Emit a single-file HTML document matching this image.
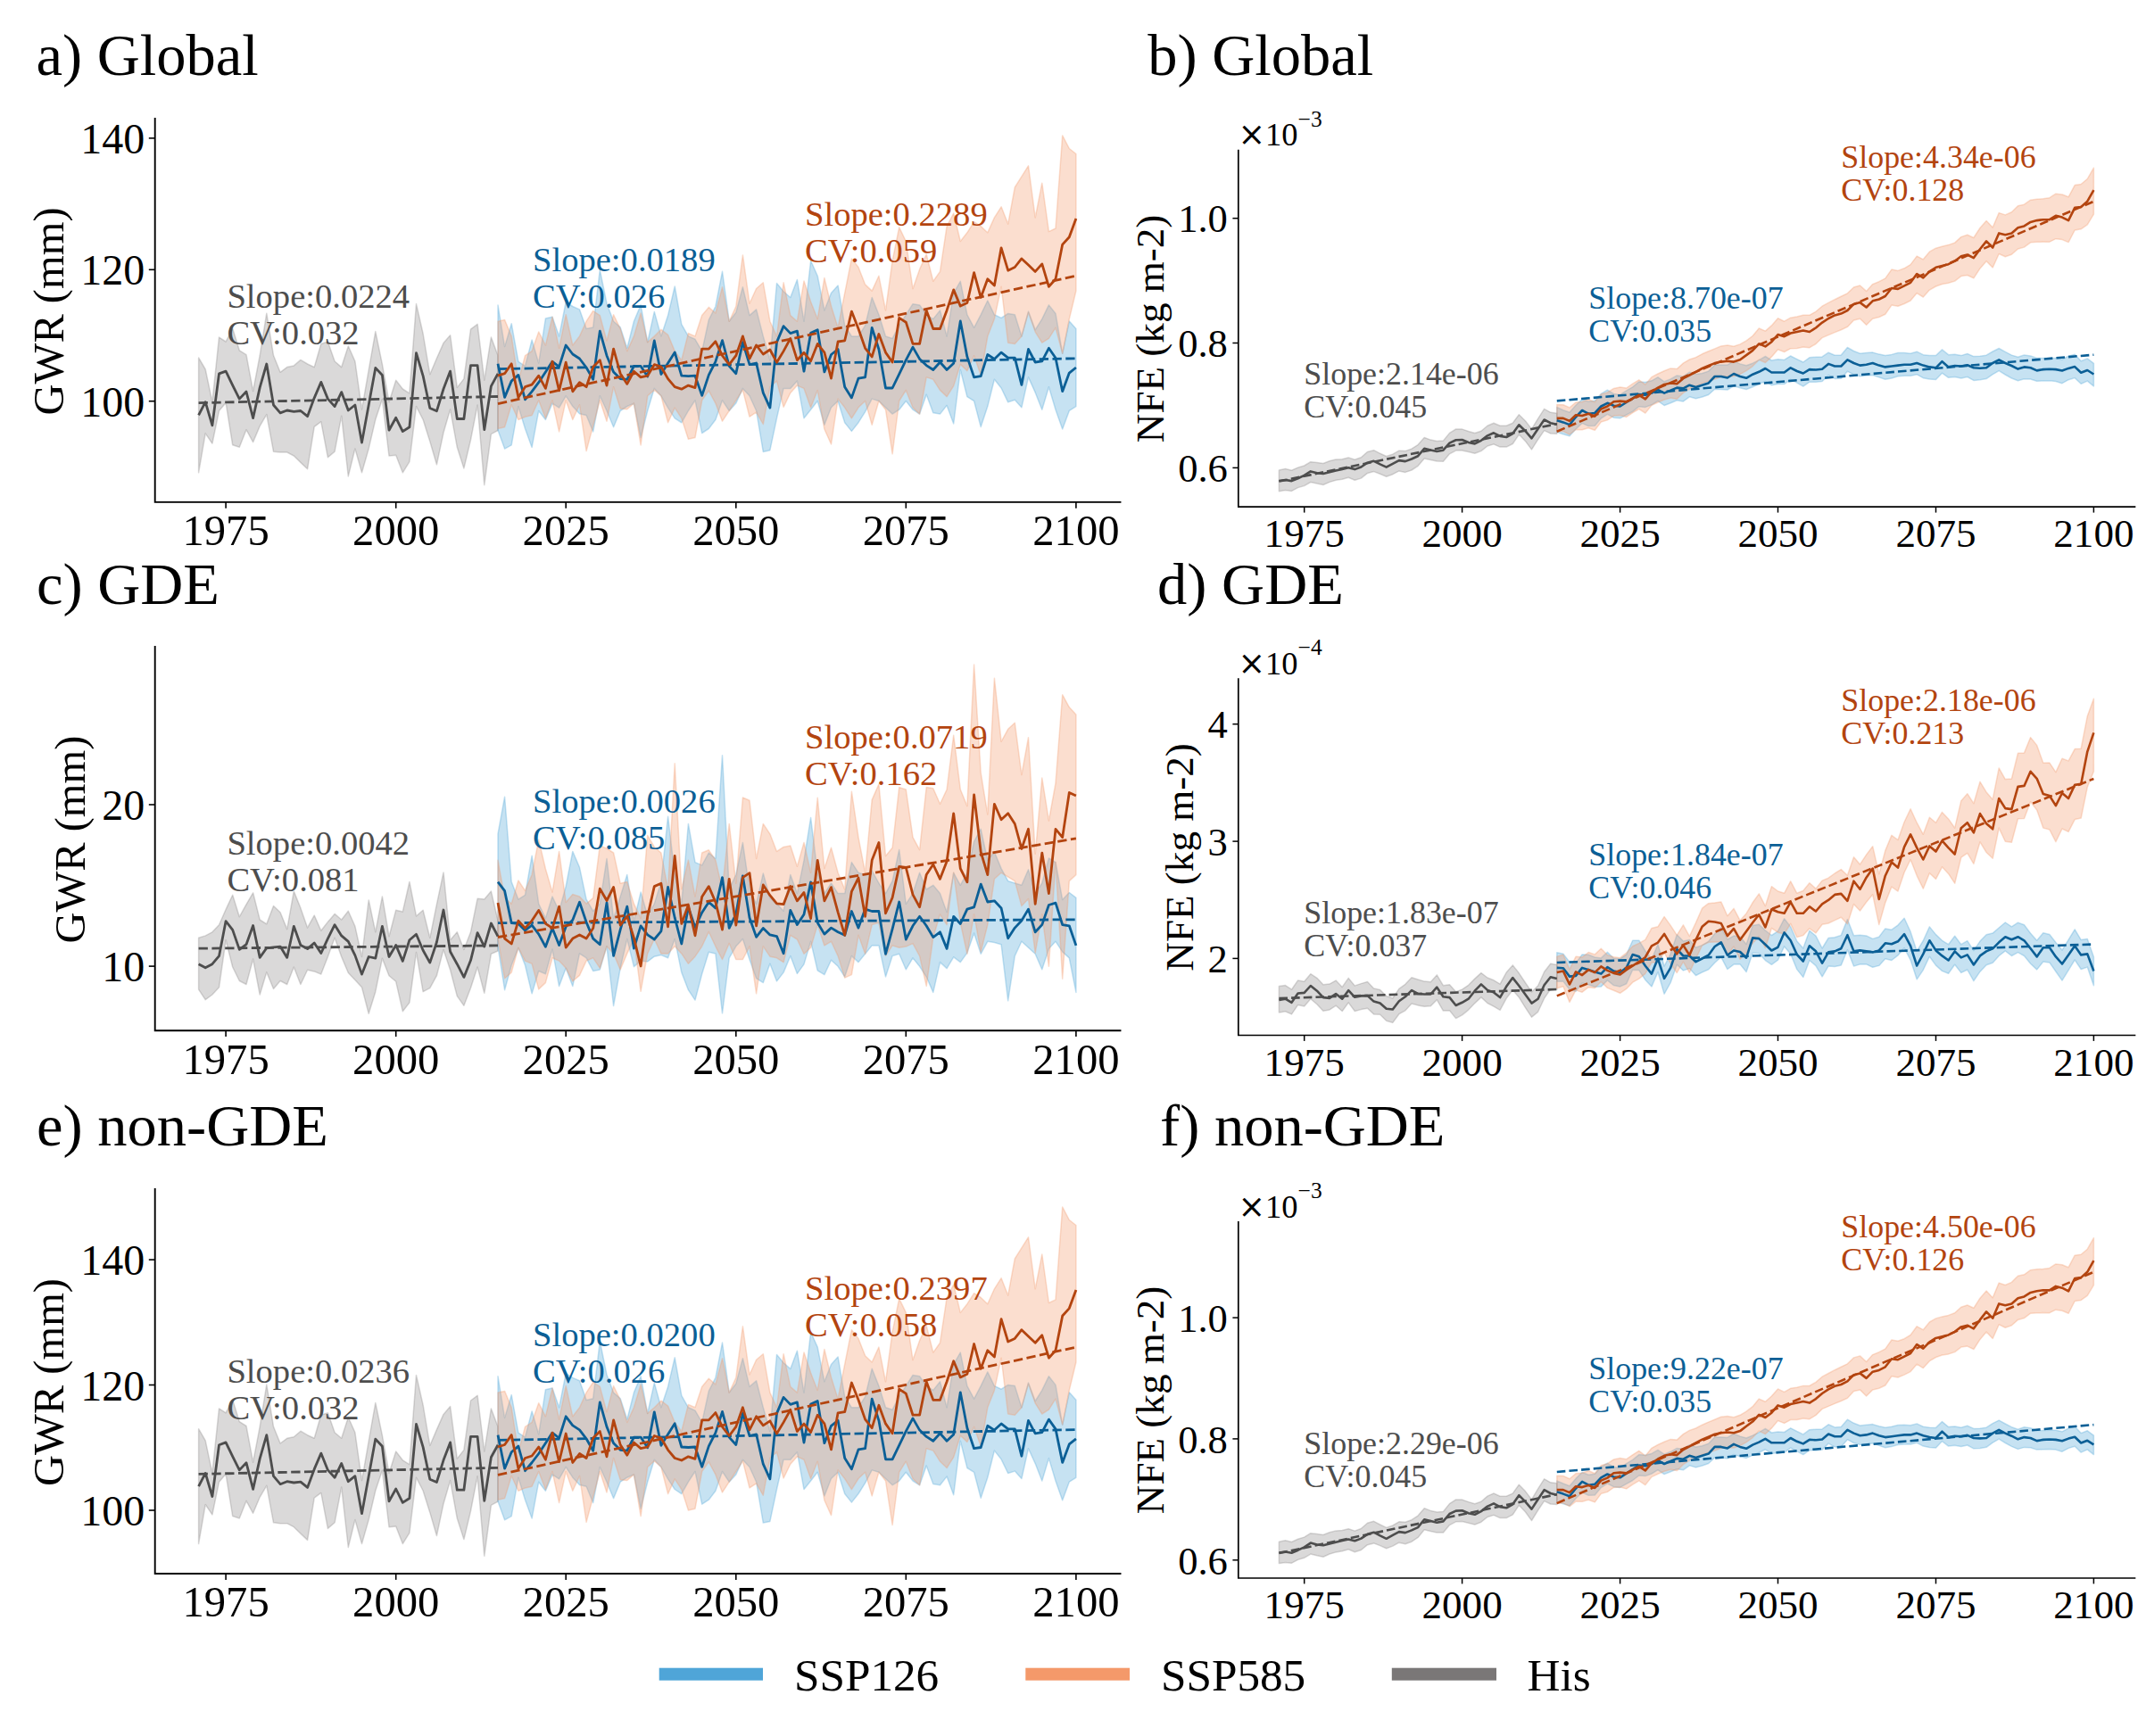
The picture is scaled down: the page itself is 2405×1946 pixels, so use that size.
<!DOCTYPE html>
<html><head><meta charset="utf-8"><title>Figure</title>
<style>html,body{margin:0;padding:0;background:#fff;width:2405px;height:1946px;overflow:hidden}svg{display:block}</style></head>
<body>
<svg width="2405" height="1946" viewBox="0 0 2405 1946" font-family='"Liberation Serif", serif'>
<rect width="2405" height="1946" fill="#fff"/>
<g><polygon points="222.6,401.0 230.2,414.0 237.9,450.7 245.5,378.1 253.1,383.0 260.7,368.3 268.3,392.8 276.0,397.7 283.6,438.5 291.2,398.5 298.8,351.2 306.5,398.5 314.1,417.3 321.7,411.6 329.3,409.9 336.9,403.4 344.6,408.0 352.2,411.6 359.8,385.5 367.4,383.0 375.1,405.0 382.7,411.6 390.3,387.9 397.9,405.0 405.5,458.9 413.2,414.8 420.8,371.6 428.4,408.3 436.0,450.7 443.7,426.2 451.3,436.0 458.9,440.9 466.5,340.6 474.1,374.0 481.8,419.7 489.4,401.8 497.0,384.6 504.6,375.7 512.3,434.4 519.9,424.6 527.5,369.1 535.1,363.4 542.8,426.2 550.4,378.1 558.0,398.5 558.0,482.5 550.4,486.6 542.8,543.7 535.1,454.0 527.5,493.1 519.9,524.9 512.3,501.3 504.6,458.9 497.0,485.0 489.4,520.8 481.8,494.7 474.1,470.3 466.5,455.6 458.9,517.6 451.3,529.8 443.7,510.2 436.0,511.0 428.4,447.4 420.8,470.3 413.2,502.9 405.5,529.8 397.9,502.9 390.3,533.9 382.7,466.2 375.1,506.2 367.4,512.7 359.8,472.7 352.2,478.4 344.6,525.7 336.9,518.4 329.3,511.0 321.7,507.0 314.1,507.0 306.5,506.2 298.8,464.6 291.2,477.6 283.6,495.6 276.0,481.7 268.3,501.3 260.7,498.8 253.1,451.5 245.5,460.5 237.9,497.2 230.2,485.8 222.6,529.8" fill="#7a7777" fill-opacity="0.28" stroke="#7a7777" stroke-opacity="0.28" stroke-width="1.5" stroke-linejoin="round"/>
<polygon points="558.0,341.9 565.6,388.6 573.2,362.7 580.9,405.3 588.5,410.4 596.1,381.1 603.7,407.0 611.4,356.9 619.0,355.2 626.6,376.9 634.2,338.5 641.8,343.5 649.5,346.9 657.1,368.6 664.7,366.9 672.3,302.6 680.0,340.2 687.6,360.2 695.2,366.9 702.8,390.3 710.4,360.2 718.1,341.9 725.7,383.6 733.3,349.4 740.9,376.9 748.6,353.6 756.2,321.0 763.8,363.6 771.4,376.9 779.0,380.3 786.7,393.6 794.3,358.6 801.9,343.5 809.5,304.3 817.2,360.2 824.8,350.2 832.4,321.8 840.0,353.6 847.6,346.9 855.3,376.9 862.9,403.7 870.5,317.6 878.1,326.8 885.8,333.5 893.4,313.5 901.0,360.2 908.6,292.3 916.2,309.2 923.9,347.9 931.5,328.6 939.1,320.1 946.7,364.9 954.4,377.0 962.0,377.0 969.6,364.9 977.2,333.4 984.9,352.8 992.5,377.0 1000.1,379.4 1007.7,364.9 1015.3,352.8 1023.0,340.7 1030.6,341.9 1038.2,352.8 1045.8,357.6 1053.5,347.9 1061.1,377.0 1068.7,328.6 1076.3,315.3 1083.9,352.8 1091.6,367.3 1099.2,352.8 1106.8,337.0 1114.4,352.8 1122.1,356.4 1129.7,351.5 1137.3,352.8 1144.9,377.0 1152.5,349.1 1160.2,369.7 1167.8,357.6 1175.4,341.9 1183.0,351.5 1190.7,396.3 1198.3,360.0 1205.9,368.5 1205.9,455.6 1198.3,460.4 1190.7,481.0 1183.0,459.2 1175.4,433.8 1167.8,459.2 1160.2,439.9 1152.5,422.9 1144.9,456.8 1137.3,448.3 1129.7,450.8 1122.1,435.0 1114.4,425.3 1106.8,455.6 1099.2,478.6 1091.6,449.5 1083.9,444.7 1076.3,414.5 1068.7,474.9 1061.1,454.4 1053.5,464.1 1045.8,462.8 1038.2,442.3 1030.6,464.1 1023.0,459.2 1015.3,449.5 1007.7,459.2 1000.1,464.1 992.5,456.8 984.9,449.5 977.2,447.1 969.6,461.6 962.0,473.7 954.4,483.4 946.7,473.7 939.1,449.5 931.5,456.8 923.9,476.2 916.2,449.5 908.6,459.2 901.0,468.8 893.4,427.1 885.8,435.4 878.1,435.4 870.5,468.8 862.9,504.7 855.3,506.4 847.6,460.5 840.0,443.8 832.4,435.4 824.8,452.1 817.2,460.5 809.5,448.8 801.9,470.5 794.3,480.5 786.7,485.5 779.0,448.8 771.4,460.5 763.8,473.8 756.2,468.8 748.6,457.1 740.9,443.8 733.3,435.4 725.7,460.5 718.1,490.5 710.4,452.1 702.8,455.5 695.2,460.5 687.6,478.8 680.0,460.5 672.3,443.8 664.7,483.9 657.1,465.5 649.5,463.8 641.8,455.5 634.2,443.8 626.6,457.1 619.0,452.1 611.4,470.5 603.7,460.5 596.1,501.4 588.5,480.5 580.9,455.5 573.2,498.9 565.6,503.1 558.0,482.2" fill="#4fa5d8" fill-opacity="0.32" stroke="#4fa5d8" stroke-opacity="0.32" stroke-width="1.5" stroke-linejoin="round"/>
<polygon points="558.0,360.2 565.6,358.6 573.2,376.9 580.9,427.1 588.5,398.7 596.1,393.6 603.7,371.9 611.4,387.0 619.0,355.2 626.6,390.3 634.2,352.7 641.8,387.0 649.5,376.9 657.1,360.2 664.7,348.5 672.3,353.6 680.0,382.0 687.6,352.7 695.2,368.6 702.8,393.6 710.4,376.9 718.1,351.0 725.7,383.6 733.3,376.9 740.9,369.4 748.6,375.3 756.2,393.6 763.8,403.7 771.4,373.6 779.0,376.9 786.7,353.6 794.3,344.4 801.9,351.0 809.5,321.8 817.2,360.2 824.8,343.5 832.4,285.9 840.0,340.2 847.6,323.5 855.3,316.8 862.9,360.2 870.5,376.9 878.1,316.8 885.8,353.6 893.4,360.2 901.0,315.1 908.6,338.2 916.2,357.6 923.9,311.6 931.5,343.1 939.1,367.3 946.7,328.6 954.4,289.9 962.0,299.5 969.6,318.9 977.2,326.1 984.9,309.2 992.5,347.9 1000.1,292.3 1007.7,254.8 1015.3,270.5 1023.0,323.7 1030.6,301.9 1038.2,285.0 1045.8,315.3 1053.5,304.4 1061.1,253.6 1068.7,239.0 1076.3,270.5 1083.9,260.8 1091.6,248.7 1099.2,253.6 1106.8,260.8 1114.4,243.9 1122.1,231.8 1129.7,251.1 1137.3,210.0 1144.9,197.9 1152.5,185.8 1160.2,243.9 1167.8,205.2 1175.4,259.6 1183.0,256.0 1190.7,151.9 1198.3,166.5 1205.9,172.5 1205.9,326.1 1198.3,357.6 1190.7,396.3 1183.0,367.3 1175.4,379.4 1167.8,384.2 1160.2,372.1 1152.5,350.3 1144.9,377.0 1137.3,385.4 1129.7,384.2 1122.1,321.3 1114.4,357.6 1106.8,377.0 1099.2,420.5 1091.6,398.7 1083.9,415.7 1076.3,408.4 1068.7,432.6 1061.1,444.7 1053.5,437.4 1045.8,425.3 1038.2,422.9 1030.6,464.1 1023.0,456.8 1015.3,437.4 1007.7,449.5 1000.1,508.8 992.5,459.2 984.9,449.5 977.2,476.2 969.6,449.5 962.0,456.8 954.4,468.9 946.7,456.8 939.1,447.1 931.5,497.9 923.9,481.0 916.2,437.4 908.6,456.8 901.0,435.4 893.4,432.1 885.8,440.4 878.1,456.3 870.5,427.1 862.9,433.7 855.3,475.5 847.6,462.1 840.0,467.2 832.4,437.1 824.8,448.8 817.2,460.5 809.5,472.2 801.9,452.1 794.3,437.9 786.7,448.8 779.0,490.5 771.4,492.2 763.8,468.8 756.2,457.1 748.6,473.8 740.9,443.8 733.3,437.1 725.7,443.8 718.1,498.9 710.4,452.1 702.8,458.8 695.2,458.0 687.6,433.7 680.0,472.2 672.3,448.8 664.7,477.2 657.1,505.6 649.5,453.8 641.8,470.5 634.2,448.8 626.6,483.9 619.0,448.8 611.4,468.8 603.7,448.8 596.1,465.5 588.5,467.2 580.9,470.5 573.2,453.8 565.6,478.8 558.0,480.5" fill="#f4996a" fill-opacity="0.32" stroke="#f4996a" stroke-opacity="0.32" stroke-width="1.5" stroke-linejoin="round"/>
<polyline points="222.6,465.4 230.2,450.7 237.9,476.8 245.5,418.9 253.1,416.1 260.7,431.9 268.3,447.1 276.0,439.0 283.6,468.6 291.2,434.4 298.8,408.0 306.5,454.0 314.1,462.9 321.7,460.0 329.3,461.3 336.9,460.5 344.6,466.7 352.2,446.1 359.8,428.4 367.4,447.1 375.1,455.6 382.7,439.6 390.3,460.0 397.9,454.0 405.5,496.0 413.2,454.0 420.8,412.4 428.4,420.5 436.0,482.2 443.7,468.3 451.3,483.6 458.9,478.8 466.5,395.7 474.1,421.3 481.8,457.5 489.4,460.8 497.0,436.0 504.6,416.1 512.3,469.5 519.9,469.5 527.5,409.6 535.1,409.6 542.8,481.7 550.4,432.8 558.0,418.9" fill="none" stroke="#4d4d4d" stroke-width="2.8" stroke-linejoin="round" stroke-linecap="butt"/>
<line x1="222.6" y1="451.6" x2="558.0" y2="444.5" stroke="#4d4d4d" stroke-width="2.8" stroke-dasharray="10.3 4.5"/>
<polyline points="558.0,407.8 565.6,445.4 573.2,427.1 580.9,420.4 588.5,447.9 596.1,438.8 603.7,428.7 611.4,417.0 619.0,405.3 626.6,411.2 634.2,387.0 641.8,397.0 649.5,402.0 657.1,412.0 664.7,425.4 672.3,371.1 680.0,398.7 687.6,417.0 695.2,424.6 702.8,425.4 710.4,410.4 718.1,410.4 725.7,422.0 733.3,382.0 740.9,419.5 748.6,407.0 756.2,395.0 763.8,421.2 771.4,421.7 779.0,421.2 786.7,443.4 794.3,420.4 801.9,405.3 809.5,381.6 817.2,410.4 824.8,418.7 832.4,383.6 840.0,408.7 847.6,407.0 855.3,440.4 862.9,457.1 870.5,383.6 878.1,365.6 885.8,373.6 893.4,371.1 901.0,416.2 908.6,373.3 916.2,369.7 923.9,416.9 931.5,397.5 939.1,391.5 946.7,433.8 954.4,445.9 962.0,424.1 969.6,422.9 977.2,367.3 984.9,391.5 992.5,435.0 1000.1,435.0 1007.7,419.3 1015.3,403.6 1023.0,389.1 1030.6,402.4 1038.2,409.6 1045.8,414.5 1053.5,406.0 1061.1,414.5 1068.7,407.2 1076.3,360.0 1083.9,399.9 1091.6,422.9 1099.2,421.7 1106.8,397.5 1114.4,402.4 1122.1,395.1 1129.7,401.2 1137.3,401.2 1144.9,431.4 1152.5,391.5 1160.2,406.0 1167.8,404.8 1175.4,390.3 1183.0,401.2 1190.7,438.7 1198.3,418.1 1205.9,412.0" fill="none" stroke="#0b5f96" stroke-width="2.8" stroke-linejoin="round" stroke-linecap="butt"/>
<line x1="558.0" y1="413.6" x2="1205.9" y2="401.8" stroke="#0b5f96" stroke-width="2.8" stroke-dasharray="10.3 4.5"/>
<polyline points="558.0,421.2 565.6,418.7 573.2,407.8 580.9,445.4 588.5,433.7 596.1,431.2 603.7,421.2 611.4,435.4 619.0,405.3 626.6,437.9 634.2,406.2 641.8,438.8 649.5,428.7 657.1,433.7 664.7,411.2 672.3,403.7 680.0,432.1 687.6,391.1 695.2,418.7 702.8,430.4 710.4,416.2 718.1,422.9 725.7,421.2 733.3,408.7 740.9,411.2 748.6,424.6 756.2,433.7 763.8,436.2 771.4,432.1 779.0,434.6 786.7,391.1 794.3,391.1 801.9,382.8 809.5,398.7 817.2,408.7 824.8,398.7 832.4,376.9 840.0,402.0 847.6,387.0 855.3,397.0 862.9,392.0 870.5,406.2 878.1,393.6 885.8,379.4 893.4,403.7 901.0,395.3 908.6,404.8 916.2,385.4 923.9,395.1 931.5,424.1 939.1,383.0 946.7,381.8 954.4,349.1 962.0,368.5 969.6,390.3 977.2,399.9 984.9,374.5 992.5,395.1 1000.1,406.0 1007.7,356.4 1015.3,361.2 1023.0,385.4 1030.6,385.4 1038.2,347.9 1045.8,368.5 1053.5,368.5 1061.1,347.9 1068.7,324.9 1076.3,343.1 1083.9,339.5 1091.6,305.6 1099.2,333.4 1106.8,312.8 1114.4,320.1 1122.1,277.8 1129.7,303.2 1137.3,299.5 1144.9,289.9 1152.5,297.1 1160.2,304.4 1167.8,295.9 1175.4,321.3 1183.0,312.8 1190.7,274.1 1198.3,265.7 1205.9,245.1" fill="none" stroke="#b3440f" stroke-width="2.8" stroke-linejoin="round" stroke-linecap="butt"/>
<line x1="558.0" y1="452.6" x2="1205.9" y2="309.2" stroke="#b3440f" stroke-width="2.8" stroke-dasharray="10.3 4.5"/>
<path d="M173.7,133.0V562.9H1255.5" fill="none" stroke="#000" stroke-width="1.9" stroke-linecap="square"/>
<line x1="253.1" y1="562.9" x2="253.1" y2="569.8" stroke="#000" stroke-width="1.6"/>
<text x="253.1" y="611.3" font-size="48.6" text-anchor="middle">1975</text>
<line x1="443.7" y1="562.9" x2="443.7" y2="569.8" stroke="#000" stroke-width="1.6"/>
<text x="443.7" y="611.3" font-size="48.6" text-anchor="middle">2000</text>
<line x1="634.2" y1="562.9" x2="634.2" y2="569.8" stroke="#000" stroke-width="1.6"/>
<text x="634.2" y="611.3" font-size="48.6" text-anchor="middle">2025</text>
<line x1="824.8" y1="562.9" x2="824.8" y2="569.8" stroke="#000" stroke-width="1.6"/>
<text x="824.8" y="611.3" font-size="48.6" text-anchor="middle">2050</text>
<line x1="1015.3" y1="562.9" x2="1015.3" y2="569.8" stroke="#000" stroke-width="1.6"/>
<text x="1015.3" y="611.3" font-size="48.6" text-anchor="middle">2075</text>
<line x1="1205.9" y1="562.9" x2="1205.9" y2="569.8" stroke="#000" stroke-width="1.6"/>
<text x="1205.9" y="611.3" font-size="48.6" text-anchor="middle">2100</text>
<line x1="166.8" y1="449.7" x2="173.7" y2="449.7" stroke="#000" stroke-width="1.6"/>
<text x="162.3" y="466.6" font-size="48.0" text-anchor="end">100</text>
<line x1="166.8" y1="302.3" x2="173.7" y2="302.3" stroke="#000" stroke-width="1.6"/>
<text x="162.3" y="319.2" font-size="48.0" text-anchor="end">120</text>
<line x1="166.8" y1="154.9" x2="173.7" y2="154.9" stroke="#000" stroke-width="1.6"/>
<text x="162.3" y="171.8" font-size="48.0" text-anchor="end">140</text>
<text transform="translate(70.8,348.9) rotate(-90)" font-size="48.5" text-anchor="middle">GWR (mm)</text>
<text x="40.5" y="83.7" font-size="66.5">a) Global</text>
<text x="254.4" y="345.2" font-size="38.6" fill="#4d4d4d">Slope:0.0224</text>
<text x="254.4" y="386.0" font-size="38.6" fill="#4d4d4d">CV:0.032</text>
<text x="597" y="304.2" font-size="38.6" fill="#0b5f96">Slope:0.0189</text>
<text x="597" y="345.0" font-size="38.6" fill="#0b5f96">CV:0.026</text>
<text x="902" y="253.2" font-size="38.6" fill="#b3440f">Slope:0.2289</text>
<text x="902" y="294.0" font-size="38.6" fill="#b3440f">CV:0.059</text></g>
<g><polygon points="1433.4,526.9 1440.5,525.5 1447.5,527.3 1454.6,524.1 1461.7,522.0 1468.8,517.7 1475.9,518.5 1482.9,519.5 1490.0,516.8 1497.1,515.0 1504.2,514.7 1511.2,512.9 1518.3,515.2 1525.4,512.7 1532.5,506.5 1539.6,504.7 1546.6,508.3 1553.7,511.5 1560.8,509.2 1567.9,505.2 1574.9,505.6 1582.0,503.1 1589.1,498.6 1596.2,490.5 1603.3,493.1 1610.3,494.5 1617.4,494.1 1624.5,485.4 1631.6,481.0 1638.6,481.1 1645.7,483.5 1652.8,485.5 1659.9,483.2 1667.0,477.2 1674.0,474.2 1681.1,477.3 1688.2,477.3 1695.3,474.2 1702.3,464.7 1709.4,471.8 1716.5,480.9 1723.6,469.3 1730.6,458.4 1737.7,462.3 1744.8,463.2 1744.8,486.3 1737.7,485.9 1730.6,482.6 1723.6,492.7 1716.5,503.9 1709.4,494.4 1702.3,487.1 1695.3,497.5 1688.2,501.1 1681.1,501.1 1674.0,497.9 1667.0,500.0 1659.9,505.6 1652.8,508.3 1645.7,506.5 1638.6,504.9 1631.6,505.1 1624.5,508.8 1617.4,517.2 1610.3,517.0 1603.3,515.5 1596.2,513.9 1589.1,522.3 1582.0,527.0 1574.9,529.4 1567.9,527.9 1560.8,531.7 1553.7,534.2 1546.6,531.3 1539.6,528.6 1532.5,530.4 1525.4,536.1 1518.3,538.2 1511.2,535.3 1504.2,537.2 1497.1,538.3 1490.0,540.4 1482.9,543.5 1475.9,542.1 1468.8,540.5 1461.7,544.6 1454.6,546.6 1447.5,550.4 1440.5,549.5 1433.4,550.7" fill="#7a7777" fill-opacity="0.28" stroke="#7a7777" stroke-opacity="0.28" stroke-width="1.5" stroke-linejoin="round"/>
<polygon points="1744.8,456.5 1751.9,459.7 1759.0,462.2 1766.0,454.3 1773.1,447.5 1780.2,450.1 1787.3,449.2 1794.3,441.4 1801.4,437.2 1808.5,441.5 1815.6,442.5 1822.7,437.9 1829.7,433.8 1836.8,427.9 1843.9,428.5 1851.0,426.8 1858.0,422.8 1865.1,427.8 1872.2,424.9 1879.3,421.0 1886.4,421.9 1893.4,417.2 1900.5,419.5 1907.6,418.5 1914.7,416.1 1921.7,409.1 1928.8,409.0 1935.9,409.1 1943.0,404.9 1950.1,407.9 1957.1,409.8 1964.2,407.2 1971.3,403.7 1978.4,399.5 1985.4,404.0 1992.5,402.8 1999.6,403.4 2006.7,399.0 2013.8,402.6 2020.8,406.0 2027.9,400.8 2035.0,400.2 2042.1,399.9 2049.1,395.2 2056.2,398.3 2063.3,397.9 2070.4,389.5 2077.5,393.5 2084.5,396.2 2091.6,395.6 2098.7,395.1 2105.8,397.1 2112.8,398.4 2119.9,397.4 2127.0,395.5 2134.1,395.5 2141.1,396.2 2148.2,394.2 2155.3,397.7 2162.4,398.5 2169.5,398.5 2176.5,391.9 2183.6,397.7 2190.7,397.2 2197.8,398.6 2204.8,396.5 2211.9,399.6 2219.0,399.3 2226.1,398.2 2233.2,394.0 2240.2,390.5 2247.3,394.4 2254.4,398.1 2261.5,400.3 2268.5,397.9 2275.6,398.9 2282.7,401.5 2289.8,401.6 2296.9,401.5 2303.9,401.4 2311.0,403.0 2318.1,399.1 2325.2,397.2 2332.2,404.7 2339.3,401.9 2346.4,407.3 2346.4,432.9 2339.3,427.1 2332.2,430.2 2325.2,423.6 2318.1,425.7 2311.0,429.7 2303.9,427.5 2296.9,426.8 2289.8,427.0 2282.7,427.2 2275.6,425.0 2268.5,424.8 2261.5,426.8 2254.4,424.0 2247.3,420.0 2240.2,415.6 2233.2,419.7 2226.1,424.6 2219.0,425.8 2211.9,426.4 2204.8,422.5 2197.8,423.9 2190.7,422.6 2183.6,423.3 2176.5,418.2 2169.5,425.4 2162.4,424.9 2155.3,423.7 2148.2,419.7 2141.1,421.3 2134.1,421.3 2127.0,421.8 2119.9,424.0 2112.8,425.2 2105.8,422.9 2098.7,420.5 2091.6,421.0 2084.5,421.7 2077.5,420.0 2070.4,416.2 2063.3,424.3 2056.2,424.4 2049.1,420.5 2042.1,427.5 2035.0,428.3 2027.9,428.2 2020.8,433.1 2013.8,429.1 2006.7,425.3 1999.6,430.6 1992.5,430.4 1985.4,431.8 1978.4,427.4 1971.3,430.5 1964.2,433.7 1957.1,436.5 1950.1,434.8 1943.0,432.7 1935.9,437.0 1928.8,436.5 1921.7,436.3 1914.7,442.5 1907.6,445.0 1900.5,446.7 1893.4,444.8 1886.4,449.9 1879.3,448.7 1872.2,451.7 1865.1,454.5 1858.0,449.4 1851.0,453.8 1843.9,456.4 1836.8,455.7 1829.7,461.3 1822.7,465.0 1815.6,468.8 1808.5,468.2 1801.4,464.3 1794.3,469.0 1787.3,477.3 1780.2,477.6 1773.1,474.4 1766.0,481.0 1759.0,488.7 1751.9,486.8 1744.8,484.4" fill="#4fa5d8" fill-opacity="0.32" stroke="#4fa5d8" stroke-opacity="0.32" stroke-width="1.5" stroke-linejoin="round"/>
<polygon points="1744.8,453.5 1751.9,453.8 1759.0,456.9 1766.0,451.0 1773.1,450.5 1780.2,447.7 1787.3,450.8 1794.3,441.9 1801.4,440.0 1808.5,435.4 1815.6,434.0 1822.7,435.0 1829.7,430.2 1836.8,425.8 1843.9,431.1 1851.0,422.7 1858.0,419.0 1865.1,415.7 1872.2,412.9 1879.3,413.6 1886.4,407.1 1893.4,403.0 1900.5,400.6 1907.6,396.8 1914.7,393.7 1921.7,390.9 1928.8,387.9 1935.9,387.1 1943.0,388.3 1950.1,385.9 1957.1,381.9 1964.2,376.5 1971.3,368.0 1978.4,371.1 1985.4,364.9 1992.5,356.8 1999.6,360.2 2006.7,356.2 2013.8,355.1 2020.8,353.3 2027.9,353.3 2035.0,349.3 2042.1,343.2 2049.1,339.4 2056.2,335.7 2063.3,332.3 2070.4,328.8 2077.5,322.0 2084.5,320.0 2091.6,326.4 2098.7,318.6 2105.8,315.7 2112.8,312.1 2119.9,302.1 2127.0,303.4 2134.1,300.8 2141.1,296.6 2148.2,287.1 2155.3,290.8 2162.4,282.2 2169.5,278.2 2176.5,276.2 2183.6,274.6 2190.7,272.1 2197.8,265.6 2204.8,263.3 2211.9,266.5 2219.0,255.5 2226.1,247.5 2233.2,255.0 2240.2,238.6 2247.3,240.9 2254.4,237.8 2261.5,230.7 2268.5,229.2 2275.6,224.2 2282.7,223.2 2289.8,222.8 2296.9,221.7 2303.9,217.2 2311.0,218.0 2318.1,220.8 2325.2,207.6 2332.2,206.5 2339.3,200.5 2346.4,188.2 2346.4,240.2 2339.3,251.8 2332.2,256.8 2325.2,258.0 2318.1,271.6 2311.0,268.6 2303.9,267.7 2296.9,271.2 2289.8,271.1 2282.7,271.2 2275.6,271.8 2268.5,277.1 2261.5,279.0 2254.4,285.3 2247.3,287.7 2240.2,284.5 2233.2,300.0 2226.1,292.7 2219.0,300.9 2211.9,311.8 2204.8,308.5 2197.8,309.6 2190.7,315.1 2183.6,317.3 2176.5,318.5 2169.5,321.0 2162.4,325.1 2155.3,333.0 2148.2,328.6 2141.1,337.0 2134.1,340.5 2127.0,343.3 2119.9,342.1 2112.8,352.3 2105.8,355.5 2098.7,357.2 2091.6,364.2 2084.5,357.2 2077.5,359.0 2070.4,366.4 2063.3,369.7 2056.2,372.6 2049.1,375.6 2042.1,378.6 2035.0,385.5 2027.9,389.7 2020.8,389.1 2013.8,390.5 2006.7,390.7 1999.6,394.5 1992.5,391.7 1985.4,399.9 1978.4,406.5 1971.3,403.2 1964.2,410.6 1957.1,415.6 1950.1,419.4 1943.0,422.0 1935.9,421.7 1928.8,422.4 1921.7,425.0 1914.7,427.3 1907.6,429.4 1900.5,433.2 1893.4,436.0 1886.4,440.4 1879.3,447.3 1872.2,446.1 1865.1,448.0 1858.0,451.0 1851.0,454.3 1843.9,463.1 1836.8,458.5 1829.7,462.7 1822.7,467.4 1815.6,465.6 1808.5,466.1 1801.4,470.9 1794.3,473.0 1787.3,482.3 1780.2,479.7 1773.1,481.8 1766.0,481.6 1759.0,487.0 1751.9,483.4 1744.8,483.8" fill="#f4996a" fill-opacity="0.32" stroke="#f4996a" stroke-opacity="0.32" stroke-width="1.5" stroke-linejoin="round"/>
<polyline points="1433.4,539.0 1440.5,538.0 1447.5,539.1 1454.6,536.2 1461.7,532.9 1468.8,528.4 1475.9,530.2 1482.9,531.0 1490.0,529.2 1497.1,527.5 1504.2,525.9 1511.2,524.3 1518.3,526.1 1525.4,523.5 1532.5,518.7 1539.6,516.8 1546.6,520.4 1553.7,523.6 1560.8,519.9 1567.9,516.1 1574.9,517.1 1582.0,514.5 1589.1,511.2 1596.2,502.8 1603.3,504.4 1610.3,506.0 1617.4,504.7 1624.5,496.6 1631.6,493.3 1638.6,493.0 1645.7,495.9 1652.8,497.4 1659.9,493.8 1667.0,488.4 1674.0,485.3 1681.1,488.9 1688.2,490.0 1695.3,486.1 1702.3,476.3 1709.4,483.2 1716.5,491.3 1723.6,480.7 1730.6,470.5 1737.7,474.2 1744.8,475.8" fill="none" stroke="#4d4d4d" stroke-width="2.6" stroke-linejoin="round" stroke-linecap="butt"/>
<line x1="1433.4" y1="539.6" x2="1744.8" y2="475.2" stroke="#4d4d4d" stroke-width="2.6" stroke-dasharray="9.6 4.1"/>
<polyline points="1744.8,471.2 1751.9,473.4 1759.0,476.1 1766.0,467.5 1773.1,460.0 1780.2,463.7 1787.3,463.0 1794.3,455.5 1801.4,451.8 1808.5,454.8 1815.6,455.5 1822.7,451.0 1829.7,446.6 1836.8,442.1 1843.9,442.8 1851.0,440.6 1858.0,436.9 1865.1,440.6 1872.2,437.6 1879.3,434.6 1886.4,435.4 1893.4,431.7 1900.5,433.9 1907.6,431.7 1914.7,429.4 1921.7,422.0 1928.8,422.0 1935.9,423.5 1943.0,419.0 1950.1,422.0 1957.1,423.8 1964.2,419.7 1971.3,416.8 1978.4,413.0 1985.4,417.5 1992.5,417.5 1999.6,417.5 2006.7,412.3 2013.8,416.0 2020.8,418.5 2027.9,414.1 2035.0,414.5 2042.1,413.8 2049.1,407.9 2056.2,410.5 2063.3,410.5 2070.4,403.4 2077.5,407.0 2084.5,409.6 2091.6,408.8 2098.7,407.0 2105.8,409.6 2112.8,411.4 2119.9,410.5 2127.0,409.6 2134.1,408.8 2141.1,408.8 2148.2,407.0 2155.3,409.6 2162.4,411.4 2169.5,412.3 2176.5,405.2 2183.6,411.4 2190.7,410.0 2197.8,410.5 2204.8,409.3 2211.9,412.3 2219.0,412.7 2226.1,412.3 2233.2,407.0 2240.2,403.4 2247.3,407.0 2254.4,410.0 2261.5,413.6 2268.5,411.4 2275.6,412.3 2282.7,415.4 2289.8,414.1 2296.9,413.8 2303.9,414.1 2311.0,415.5 2318.1,412.9 2325.2,411.1 2332.2,417.7 2339.3,415.0 2346.4,419.5" fill="none" stroke="#0b5f96" stroke-width="2.6" stroke-linejoin="round" stroke-linecap="butt"/>
<line x1="1744.8" y1="449.4" x2="2346.4" y2="397.7" stroke="#0b5f96" stroke-width="2.6" stroke-dasharray="9.6 4.1"/>
<polyline points="1744.8,468.9 1751.9,468.9 1759.0,471.9 1766.0,465.2 1773.1,466.0 1780.2,463.7 1787.3,466.7 1794.3,458.5 1801.4,455.5 1808.5,450.3 1815.6,449.6 1822.7,450.3 1829.7,446.6 1836.8,442.8 1843.9,447.3 1851.0,439.1 1858.0,434.6 1865.1,430.9 1872.2,429.4 1879.3,430.2 1886.4,424.2 1893.4,420.5 1900.5,416.8 1907.6,413.0 1914.7,410.0 1921.7,407.1 1928.8,405.6 1935.9,404.8 1943.0,405.6 1950.1,403.3 1957.1,398.1 1964.2,392.9 1971.3,385.4 1978.4,388.4 1985.4,383.2 1992.5,375.0 1999.6,377.2 2006.7,373.5 2013.8,372.0 2020.8,370.5 2027.9,372.0 2035.0,367.5 2042.1,361.6 2049.1,357.0 2056.2,353.4 2063.3,351.6 2070.4,348.0 2077.5,340.9 2084.5,339.1 2091.6,344.5 2098.7,337.3 2105.8,335.5 2112.8,332.0 2119.9,323.0 2127.0,323.9 2134.1,320.4 2141.1,316.8 2148.2,307.0 2155.3,311.4 2162.4,304.3 2169.5,299.8 2176.5,298.0 2183.6,296.2 2190.7,292.7 2197.8,287.3 2204.8,285.5 2211.9,289.1 2219.0,279.3 2226.1,270.4 2233.2,277.5 2240.2,261.4 2247.3,263.2 2254.4,261.4 2261.5,255.2 2268.5,253.4 2275.6,248.9 2282.7,247.1 2289.8,246.2 2296.9,246.2 2303.9,241.8 2311.0,243.6 2318.1,247.1 2325.2,232.9 2332.2,232.0 2339.3,225.7 2346.4,213.2" fill="none" stroke="#b3440f" stroke-width="2.6" stroke-linejoin="round" stroke-linecap="butt"/>
<line x1="1744.8" y1="483.7" x2="2346.4" y2="225.8" stroke="#b3440f" stroke-width="2.6" stroke-dasharray="9.6 4.1"/>
<path d="M1387.8,168.6V568.2H2392.5" fill="none" stroke="#000" stroke-width="1.7" stroke-linecap="square"/>
<line x1="1461.7" y1="568.2" x2="1461.7" y2="574.6" stroke="#000" stroke-width="1.5"/>
<text x="1461.7" y="613.2" font-size="45.1" text-anchor="middle">1975</text>
<line x1="1638.6" y1="568.2" x2="1638.6" y2="574.6" stroke="#000" stroke-width="1.5"/>
<text x="1638.6" y="613.2" font-size="45.1" text-anchor="middle">2000</text>
<line x1="1815.6" y1="568.2" x2="1815.6" y2="574.6" stroke="#000" stroke-width="1.5"/>
<text x="1815.6" y="613.2" font-size="45.1" text-anchor="middle">2025</text>
<line x1="1992.5" y1="568.2" x2="1992.5" y2="574.6" stroke="#000" stroke-width="1.5"/>
<text x="1992.5" y="613.2" font-size="45.1" text-anchor="middle">2050</text>
<line x1="2169.5" y1="568.2" x2="2169.5" y2="574.6" stroke="#000" stroke-width="1.5"/>
<text x="2169.5" y="613.2" font-size="45.1" text-anchor="middle">2075</text>
<line x1="2346.4" y1="568.2" x2="2346.4" y2="574.6" stroke="#000" stroke-width="1.5"/>
<text x="2346.4" y="613.2" font-size="45.1" text-anchor="middle">2100</text>
<line x1="1381.4" y1="524.4" x2="1387.8" y2="524.4" stroke="#000" stroke-width="1.5"/>
<text x="1375.9" y="540.1" font-size="44.6" text-anchor="end">0.6</text>
<line x1="1381.4" y1="384.5" x2="1387.8" y2="384.5" stroke="#000" stroke-width="1.5"/>
<text x="1375.9" y="400.3" font-size="44.6" text-anchor="end">0.8</text>
<line x1="1381.4" y1="244.7" x2="1387.8" y2="244.7" stroke="#000" stroke-width="1.5"/>
<text x="1375.9" y="260.4" font-size="44.6" text-anchor="end">1.0</text>
<text transform="translate(1304.0,368.4) rotate(-90)" font-size="45.1" text-anchor="middle">NFE (kg m-2)</text>
<text x="1286.2" y="83.5" font-size="66.5">b) Global</text>
<text x="1387.4" y="163.3" font-size="36.5" font-family="DejaVu Sans, sans-serif">×</text>
<text x="1418.0" y="163.3" font-size="36.5">10</text>
<text x="1454.5" y="141.8" font-size="25.5">−3</text>
<text x="1461.3" y="431" font-size="35.9" fill="#4d4d4d">Slope:2.14e-06</text>
<text x="1461.3" y="468.2" font-size="35.9" fill="#4d4d4d">CV:0.045</text>
<text x="1780.3" y="346" font-size="35.9" fill="#0b5f96">Slope:8.70e-07</text>
<text x="1780.3" y="383.2" font-size="35.9" fill="#0b5f96">CV:0.035</text>
<text x="2063.3" y="188" font-size="35.9" fill="#b3440f">Slope:4.34e-06</text>
<text x="2063.3" y="225.2" font-size="35.9" fill="#b3440f">CV:0.128</text></g>
<g><polygon points="222.6,1051.3 230.2,1048.9 237.9,1044.8 245.5,1036.7 253.1,1019.5 260.7,1003.2 268.3,1027.7 276.0,1013.8 283.6,1000.8 291.2,1031.0 298.8,1035.8 306.5,1015.5 314.1,1022.8 321.7,1041.6 329.3,999.1 336.9,1017.9 344.6,1039.9 352.2,1026.1 359.8,1043.2 367.4,1033.4 375.1,1024.4 382.7,1031.0 390.3,1021.2 397.9,1038.3 405.5,1072.5 413.2,1008.9 420.8,1044.8 428.4,1004.9 436.0,1049.7 443.7,1020.3 451.3,1022.0 458.9,988.5 466.5,1026.9 474.1,1020.3 481.8,1051.3 489.4,1013.8 497.0,977.9 504.6,1053.8 512.3,1044.8 519.9,1064.4 527.5,1044.8 535.1,1007.3 542.8,1008.1 550.4,999.1 558.0,1031.8 558.0,1066.0 550.4,1069.3 542.8,1113.3 535.1,1084.0 527.5,1107.6 519.9,1127.2 512.3,1116.6 504.6,1087.2 497.0,1064.4 489.4,1093.7 481.8,1107.6 474.1,1111.7 466.5,1067.6 458.9,1123.9 451.3,1133.7 443.7,1100.3 436.0,1093.7 428.4,1074.2 420.8,1111.7 413.2,1136.2 405.5,1106.8 397.9,1098.6 390.3,1090.5 382.7,1072.5 375.1,1051.3 367.4,1072.5 359.8,1092.1 352.2,1088.9 344.6,1087.2 336.9,1103.5 329.3,1084.0 321.7,1103.5 314.1,1099.5 306.5,1108.4 298.8,1089.7 291.2,1115.0 283.6,1075.0 276.0,1103.5 268.3,1099.5 260.7,1084.0 253.1,1053.8 245.5,1106.8 237.9,1115.0 230.2,1120.7 222.6,1109.2" fill="#7a7777" fill-opacity="0.28" stroke="#7a7777" stroke-opacity="0.28" stroke-width="1.5" stroke-linejoin="round"/>
<polygon points="558.0,934.8 565.6,893.2 573.2,988.6 580.9,1008.2 588.5,1003.3 596.1,959.3 603.7,1013.1 611.4,1029.4 619.0,1005.0 626.6,1021.3 634.2,993.5 641.8,954.4 649.5,972.3 657.1,1008.2 664.7,1021.3 672.3,1013.1 680.0,962.5 687.6,1029.4 695.2,1005.0 702.8,980.5 710.4,1032.7 718.1,1000.1 725.7,1026.2 733.3,1013.1 740.9,988.6 748.6,915.2 756.2,980.5 763.8,1013.1 771.4,923.4 779.0,966.6 786.7,969.9 794.3,956.0 801.9,962.5 809.5,846.7 817.2,996.8 824.8,980.5 832.4,944.6 840.0,996.8 847.6,1013.1 855.3,978.9 862.9,1006.6 870.5,1013.1 878.1,1021.3 885.8,980.6 893.4,1001.6 901.0,964.3 908.6,916.5 916.2,978.3 923.9,1001.6 931.5,990.0 939.1,1001.6 946.7,1001.6 954.4,966.6 962.0,978.3 969.6,980.6 977.2,976.0 984.9,990.0 992.5,1001.6 1000.1,987.6 1007.7,952.6 1015.3,1013.3 1023.0,1001.6 1030.6,978.3 1038.2,997.0 1045.8,992.3 1053.5,1001.6 1061.1,1022.6 1068.7,978.3 1076.3,992.3 1083.9,978.3 1091.6,943.3 1099.2,929.3 1106.8,964.3 1114.4,955.0 1122.1,973.6 1129.7,987.6 1137.3,990.0 1144.9,992.3 1152.5,974.8 1160.2,1001.6 1167.8,990.0 1175.4,962.0 1183.0,966.6 1190.7,1008.6 1198.3,1000.5 1205.9,1006.3 1205.9,1112.4 1198.3,1073.9 1190.7,1066.9 1183.0,1055.3 1175.4,1063.4 1167.8,1086.8 1160.2,1069.3 1152.5,1062.3 1144.9,1055.3 1137.3,1071.6 1129.7,1121.8 1122.1,1058.8 1114.4,1056.5 1106.8,1055.3 1099.2,1069.3 1091.6,1046.0 1083.9,1068.1 1076.3,1078.6 1068.7,1072.8 1061.1,1085.6 1053.5,1078.6 1045.8,1112.4 1038.2,1094.9 1030.6,1083.3 1023.0,1073.9 1015.3,1086.8 1007.7,1069.3 1000.1,1071.6 992.5,1094.9 984.9,1059.9 977.2,1059.9 969.6,1069.3 962.0,1078.6 954.4,1071.6 946.7,1094.9 939.1,1083.3 931.5,1076.3 923.9,1092.6 916.2,1087.9 908.6,1055.3 901.0,1080.9 893.4,1091.4 885.8,1071.6 878.1,1090.1 870.5,1099.9 862.9,1080.3 855.3,1101.6 847.6,1096.7 840.0,1075.5 832.4,1052.6 824.8,1060.8 817.2,1073.8 809.5,1135.8 801.9,1068.9 794.3,1067.3 786.7,1091.8 779.0,1121.1 771.4,1109.7 763.8,1090.1 756.2,1052.6 748.6,1073.8 740.9,1070.6 733.3,1072.2 725.7,1077.9 718.1,1077.1 710.4,1083.6 702.8,1052.6 695.2,1085.2 687.6,1127.6 680.0,1060.8 672.3,1086.9 664.7,1088.5 657.1,1073.8 649.5,1068.9 641.8,1105.6 634.2,1085.2 626.6,1105.6 619.0,1064.0 611.4,1091.8 603.7,1088.5 596.1,1113.8 588.5,1082.0 580.9,1062.4 573.2,1082.0 565.6,1109.7 558.0,1060.8" fill="#4fa5d8" fill-opacity="0.32" stroke="#4fa5d8" stroke-opacity="0.32" stroke-width="1.5" stroke-linejoin="round"/>
<polygon points="558.0,964.2 565.6,1006.6 573.2,1013.1 580.9,987.0 588.5,998.4 596.1,980.5 603.7,941.3 611.4,974.0 619.0,1000.1 626.6,954.4 634.2,1011.5 641.8,1002.5 649.5,1005.0 657.1,1013.1 664.7,1006.6 672.3,947.9 680.0,951.1 687.6,956.0 695.2,990.3 702.8,988.6 710.4,1013.1 718.1,1029.4 725.7,936.4 733.3,949.5 740.9,956.0 748.6,996.8 756.2,855.7 763.8,996.8 771.4,964.2 779.0,1005.0 786.7,956.0 794.3,952.8 801.9,964.2 809.5,996.8 817.2,923.4 824.8,990.3 832.4,894.0 840.0,897.3 847.6,962.5 855.3,923.4 862.9,934.8 870.5,954.4 878.1,949.5 885.8,948.0 893.4,971.3 901.0,944.5 908.6,978.3 916.2,894.3 923.9,973.6 931.5,950.3 939.1,978.3 946.7,997.0 954.4,887.3 962.0,938.6 969.6,978.3 977.2,896.6 984.9,879.1 992.5,959.6 1000.1,950.3 1007.7,882.6 1015.3,885.0 1023.0,938.6 1030.6,952.6 1038.2,882.6 1045.8,883.8 1053.5,901.3 1061.1,885.0 1068.7,824.3 1076.3,885.0 1083.9,903.6 1091.6,745.0 1099.2,866.3 1106.8,913.0 1114.4,760.2 1122.1,831.3 1129.7,817.3 1137.3,810.3 1144.9,868.6 1152.5,826.7 1160.2,957.3 1167.8,872.1 1175.4,920.0 1183.0,878.0 1190.7,778.8 1198.3,792.8 1205.9,801.0 1205.9,980.6 1198.3,987.6 1190.7,1097.3 1183.0,966.6 1175.4,1083.3 1167.8,1025.0 1160.2,1068.1 1152.5,1007.5 1144.9,1015.6 1137.3,987.6 1129.7,983.0 1122.1,978.3 1114.4,985.3 1106.8,1036.6 1099.2,1066.9 1091.6,1025.0 1083.9,1069.3 1076.3,1034.3 1068.7,978.3 1061.1,1036.6 1053.5,1025.0 1045.8,1050.6 1038.2,1105.4 1030.6,1071.6 1023.0,1057.6 1015.3,1061.1 1007.7,1062.3 1000.1,1059.9 992.5,1071.6 984.9,1034.3 977.2,1036.6 969.6,1069.3 962.0,1048.3 954.4,1092.6 946.7,1096.1 939.1,1071.6 931.5,1055.3 923.9,1059.9 916.2,1036.6 908.6,1062.3 901.0,1069.3 893.4,1053.0 885.8,1048.3 878.1,1078.7 870.5,1073.8 862.9,1072.2 855.3,1060.8 847.6,1113.8 840.0,1060.8 832.4,1075.5 824.8,1075.5 817.2,1057.5 809.5,1075.5 801.9,1060.8 794.3,1044.5 786.7,1060.8 779.0,1072.2 771.4,1080.3 763.8,1068.9 756.2,1060.8 748.6,1068.9 740.9,1068.9 733.3,1052.6 725.7,1068.9 718.1,1111.3 710.4,1052.6 702.8,1068.9 695.2,1086.9 687.6,1068.9 680.0,1060.8 672.3,1085.2 664.7,1073.8 657.1,1077.1 649.5,1093.4 641.8,1099.9 634.2,1085.2 626.6,1077.1 619.0,1073.8 611.4,1101.6 603.7,1108.9 596.1,1080.3 588.5,1077.1 580.9,1062.4 573.2,1090.1 565.6,1096.7 558.0,1052.6" fill="#f4996a" fill-opacity="0.32" stroke="#f4996a" stroke-opacity="0.32" stroke-width="1.5" stroke-linejoin="round"/>
<polyline points="222.6,1080.7 230.2,1084.8 237.9,1080.7 245.5,1071.7 253.1,1032.6 260.7,1042.4 268.3,1064.4 276.0,1058.7 283.6,1037.5 291.2,1073.4 298.8,1062.8 306.5,1061.9 314.1,1061.1 321.7,1073.4 329.3,1038.3 336.9,1059.5 344.6,1063.6 352.2,1057.0 359.8,1068.5 367.4,1052.2 375.1,1036.7 382.7,1048.9 390.3,1055.4 397.9,1070.9 405.5,1092.1 413.2,1072.5 420.8,1074.2 428.4,1038.3 436.0,1072.5 443.7,1059.5 451.3,1077.4 458.9,1053.8 466.5,1047.3 474.1,1065.2 481.8,1079.1 489.4,1056.2 497.0,1020.0 504.6,1066.8 512.3,1080.7 519.9,1095.4 527.5,1076.6 535.1,1045.6 542.8,1061.1 550.4,1035.0 558.0,1049.7" fill="none" stroke="#4d4d4d" stroke-width="2.8" stroke-linejoin="round" stroke-linecap="butt"/>
<line x1="222.6" y1="1063.2" x2="558.0" y2="1059.9" stroke="#4d4d4d" stroke-width="2.8" stroke-dasharray="10.3 4.5"/>
<polyline points="558.0,988.6 565.6,998.7 573.2,1034.6 580.9,1035.4 588.5,1042.9 596.1,1037.1 603.7,1047.1 611.4,1061.3 619.0,1040.4 626.6,1059.6 634.2,1038.8 641.8,1031.2 649.5,1011.2 657.1,1033.7 664.7,1052.1 672.3,1058.8 680.0,1012.0 687.6,1071.3 695.2,1042.1 702.8,1016.2 710.4,1063.0 718.1,1037.9 725.7,1047.9 733.3,1053.0 740.9,1043.8 748.6,994.5 756.2,1028.7 763.8,1058.0 771.4,1017.0 779.0,1039.6 786.7,1022.9 794.3,1011.2 801.9,1017.9 809.5,983.6 817.2,1040.4 824.8,1024.6 832.4,982.0 840.0,1028.7 847.6,1050.4 855.3,1040.4 862.9,1047.9 870.5,1049.6 878.1,1068.8 885.8,1020.3 893.4,1036.6 901.0,1025.0 908.6,988.8 916.2,1034.3 923.9,1047.1 931.5,1040.1 939.1,1044.8 946.7,1048.3 954.4,1021.5 962.0,1040.1 969.6,1019.1 977.2,1021.5 984.9,1021.5 992.5,1069.3 1000.1,1041.3 1007.7,1011.0 1015.3,1053.0 1023.0,1037.8 1030.6,1027.3 1038.2,1037.8 1045.8,1050.6 1053.5,1044.8 1061.1,1063.4 1068.7,1027.3 1076.3,1035.5 1083.9,1019.1 1091.6,1016.8 1099.2,991.1 1106.8,1011.0 1114.4,1009.8 1122.1,1018.0 1129.7,1051.8 1137.3,1040.1 1144.9,1032.0 1152.5,1019.1 1160.2,1044.8 1167.8,1036.6 1175.4,1014.5 1183.0,1012.1 1190.7,1036.6 1198.3,1037.8 1205.9,1059.9" fill="none" stroke="#0b5f96" stroke-width="2.8" stroke-linejoin="round" stroke-linecap="butt"/>
<line x1="558.0" y1="1034.7" x2="1205.9" y2="1030.8" stroke="#0b5f96" stroke-width="2.8" stroke-dasharray="10.3 4.5"/>
<polyline points="558.0,1012.0 565.6,1052.1 573.2,1058.0 580.9,1032.1 588.5,1040.4 596.1,1032.1 603.7,1020.4 611.4,1035.4 619.0,1040.4 626.6,1016.2 634.2,1062.1 641.8,1052.1 649.5,1047.9 657.1,1052.1 664.7,1040.4 672.3,996.2 680.0,1009.5 687.6,994.5 695.2,1037.1 702.8,1027.1 710.4,1051.3 718.1,1083.0 725.7,1027.1 733.3,993.6 740.9,990.3 748.6,1038.8 756.2,959.4 763.8,1035.4 771.4,1014.5 779.0,1048.8 786.7,1005.3 794.3,993.6 801.9,1011.2 809.5,1042.1 817.2,985.3 824.8,1037.1 832.4,983.6 840.0,978.6 847.6,1037.9 855.3,992.0 862.9,1003.7 870.5,1012.9 878.1,1013.7 885.8,993.5 893.4,1009.8 901.0,1000.5 908.6,1029.6 916.2,964.3 923.9,1009.8 931.5,994.6 939.1,1022.6 946.7,1048.3 954.4,999.3 962.0,984.1 969.6,1027.3 977.2,964.3 984.9,944.5 992.5,1023.8 1000.1,1006.3 1007.7,971.3 1015.3,972.5 1023.0,1002.8 1030.6,1016.8 1038.2,980.6 1045.8,969.0 1053.5,985.3 1061.1,965.5 1068.7,911.8 1076.3,973.6 1083.9,988.8 1091.6,890.8 1099.2,955.0 1106.8,980.6 1114.4,901.3 1122.1,918.8 1129.7,911.8 1137.3,923.5 1144.9,951.5 1152.5,929.3 1160.2,1013.3 1167.8,956.1 1175.4,1001.6 1183.0,929.3 1190.7,938.6 1198.3,888.5 1205.9,892.0" fill="none" stroke="#b3440f" stroke-width="2.8" stroke-linejoin="round" stroke-linecap="butt"/>
<line x1="558.0" y1="1050.5" x2="1205.9" y2="939.8" stroke="#b3440f" stroke-width="2.8" stroke-dasharray="10.3 4.5"/>
<path d="M173.7,725.0V1155.2H1255.5" fill="none" stroke="#000" stroke-width="1.9" stroke-linecap="square"/>
<line x1="253.1" y1="1155.2" x2="253.1" y2="1162.1" stroke="#000" stroke-width="1.6"/>
<text x="253.1" y="1203.6" font-size="48.6" text-anchor="middle">1975</text>
<line x1="443.7" y1="1155.2" x2="443.7" y2="1162.1" stroke="#000" stroke-width="1.6"/>
<text x="443.7" y="1203.6" font-size="48.6" text-anchor="middle">2000</text>
<line x1="634.2" y1="1155.2" x2="634.2" y2="1162.1" stroke="#000" stroke-width="1.6"/>
<text x="634.2" y="1203.6" font-size="48.6" text-anchor="middle">2025</text>
<line x1="824.8" y1="1155.2" x2="824.8" y2="1162.1" stroke="#000" stroke-width="1.6"/>
<text x="824.8" y="1203.6" font-size="48.6" text-anchor="middle">2050</text>
<line x1="1015.3" y1="1155.2" x2="1015.3" y2="1162.1" stroke="#000" stroke-width="1.6"/>
<text x="1015.3" y="1203.6" font-size="48.6" text-anchor="middle">2075</text>
<line x1="1205.9" y1="1155.2" x2="1205.9" y2="1162.1" stroke="#000" stroke-width="1.6"/>
<text x="1205.9" y="1203.6" font-size="48.6" text-anchor="middle">2100</text>
<line x1="166.8" y1="1083.1" x2="173.7" y2="1083.1" stroke="#000" stroke-width="1.6"/>
<text x="162.3" y="1100.0" font-size="48.0" text-anchor="end">10</text>
<line x1="166.8" y1="902.0" x2="173.7" y2="902.0" stroke="#000" stroke-width="1.6"/>
<text x="162.3" y="918.9" font-size="48.0" text-anchor="end">20</text>
<text transform="translate(94.6,941.1) rotate(-90)" font-size="48.5" text-anchor="middle">GWR (mm)</text>
<text x="41" y="677.2" font-size="66.5">c) GDE</text>
<text x="254.4" y="958.2" font-size="38.6" fill="#4d4d4d">Slope:0.0042</text>
<text x="254.4" y="999.0" font-size="38.6" fill="#4d4d4d">CV:0.081</text>
<text x="597" y="911.2" font-size="38.6" fill="#0b5f96">Slope:0.0026</text>
<text x="597" y="952.0" font-size="38.6" fill="#0b5f96">CV:0.085</text>
<text x="902" y="839.2" font-size="38.6" fill="#b3440f">Slope:0.0719</text>
<text x="902" y="880.0" font-size="38.6" fill="#b3440f">CV:0.162</text></g>
<g><polygon points="1433.4,1105.5 1440.5,1104.6 1447.5,1109.2 1454.6,1098.9 1461.7,1100.2 1468.8,1091.7 1475.9,1096.3 1482.9,1103.8 1490.0,1103.1 1497.1,1099.1 1504.2,1106.4 1511.2,1096.4 1518.3,1104.9 1525.4,1102.6 1532.5,1100.5 1539.6,1107.9 1546.6,1109.6 1553.7,1116.6 1560.8,1119.0 1567.9,1108.4 1574.9,1103.3 1582.0,1095.8 1589.1,1098.0 1596.2,1100.1 1603.3,1100.7 1610.3,1092.9 1617.4,1104.7 1624.5,1103.7 1631.6,1111.8 1638.6,1109.1 1645.7,1104.3 1652.8,1097.1 1659.9,1090.6 1667.0,1096.0 1674.0,1098.8 1681.1,1103.1 1688.2,1090.0 1695.3,1081.9 1702.3,1090.8 1709.4,1101.5 1716.5,1111.9 1723.6,1105.0 1730.6,1089.5 1737.7,1080.2 1744.8,1081.4 1744.8,1109.4 1737.7,1108.8 1730.6,1119.2 1723.6,1134.3 1716.5,1140.2 1709.4,1129.4 1702.3,1117.9 1695.3,1109.8 1688.2,1119.1 1681.1,1132.3 1674.0,1128.2 1667.0,1124.5 1659.9,1117.9 1652.8,1124.6 1645.7,1132.1 1638.6,1137.8 1631.6,1141.6 1624.5,1132.8 1617.4,1133.1 1610.3,1120.7 1603.3,1127.8 1596.2,1128.2 1589.1,1126.9 1582.0,1125.0 1574.9,1132.8 1567.9,1136.7 1560.8,1146.4 1553.7,1144.2 1546.6,1137.2 1539.6,1136.9 1532.5,1130.2 1525.4,1131.6 1518.3,1133.5 1511.2,1123.9 1504.2,1133.5 1497.1,1127.3 1490.0,1131.9 1482.9,1133.2 1475.9,1125.8 1468.8,1119.8 1461.7,1127.9 1454.6,1126.4 1447.5,1136.9 1440.5,1133.8 1433.4,1134.9" fill="#7a7777" fill-opacity="0.28" stroke="#7a7777" stroke-opacity="0.28" stroke-width="1.5" stroke-linejoin="round"/>
<polygon points="1744.8,1067.7 1751.9,1069.3 1759.0,1078.5 1766.0,1079.8 1773.1,1070.0 1780.2,1070.3 1787.3,1073.0 1794.3,1073.9 1801.4,1067.4 1808.5,1074.2 1815.6,1074.8 1822.7,1070.1 1829.7,1054.3 1836.8,1054.2 1843.9,1066.0 1851.0,1075.2 1858.0,1058.6 1865.1,1083.0 1872.2,1069.3 1879.3,1047.7 1886.4,1055.0 1893.4,1053.4 1900.5,1062.1 1907.6,1059.6 1914.7,1055.3 1921.7,1046.7 1928.8,1039.9 1935.9,1053.0 1943.0,1049.1 1950.1,1050.0 1957.1,1058.5 1964.2,1037.4 1971.3,1036.2 1978.4,1043.0 1985.4,1048.5 1992.5,1043.8 1999.6,1029.8 2006.7,1038.9 2013.8,1055.0 2020.8,1063.1 2027.9,1043.3 2035.0,1049.2 2042.1,1063.0 2049.1,1051.5 2056.2,1050.8 2063.3,1048.4 2070.4,1030.6 2077.5,1048.7 2084.5,1048.2 2091.6,1048.9 2098.7,1052.4 2105.8,1050.3 2112.8,1040.9 2119.9,1042.2 2127.0,1037.1 2134.1,1029.3 2141.1,1044.4 2148.2,1066.2 2155.3,1054.5 2162.4,1038.9 2169.5,1047.6 2176.5,1054.3 2183.6,1058.7 2190.7,1049.2 2197.8,1058.7 2204.8,1054.7 2211.9,1065.6 2219.0,1055.1 2226.1,1047.8 2233.2,1046.1 2240.2,1040.0 2247.3,1034.0 2254.4,1038.8 2261.5,1034.2 2268.5,1036.8 2275.6,1046.3 2282.7,1054.2 2289.8,1045.8 2296.9,1047.5 2303.9,1056.5 2311.0,1065.1 2318.1,1053.5 2325.2,1041.8 2332.2,1053.6 2339.3,1052.5 2346.4,1072.7 2346.4,1104.8 2339.3,1084.1 2332.2,1086.5 2325.2,1076.0 2318.1,1087.6 2311.0,1099.1 2303.9,1089.0 2296.9,1078.9 2289.8,1078.0 2282.7,1086.9 2275.6,1080.2 2268.5,1071.5 2261.5,1067.6 2254.4,1071.5 2247.3,1065.9 2240.2,1071.5 2233.2,1079.2 2226.1,1081.7 2219.0,1089.2 2211.9,1099.6 2204.8,1087.0 2197.8,1090.4 2190.7,1081.3 2183.6,1091.3 2176.5,1088.4 2169.5,1082.1 2162.4,1072.3 2155.3,1087.3 2148.2,1097.8 2141.1,1076.1 2134.1,1062.6 2127.0,1070.9 2119.9,1076.5 2112.8,1074.8 2105.8,1082.4 2098.7,1084.3 2091.6,1080.9 2084.5,1080.9 2077.5,1083.1 2070.4,1064.8 2063.3,1081.9 2056.2,1083.6 2049.1,1082.9 2042.1,1094.8 2035.0,1082.6 2027.9,1076.5 2020.8,1095.4 2013.8,1086.6 2006.7,1069.2 1999.6,1060.9 1992.5,1076.2 1985.4,1081.3 1978.4,1076.6 1971.3,1068.7 1964.2,1068.3 1957.1,1089.5 1950.1,1080.9 1943.0,1081.1 1935.9,1086.5 1928.8,1072.8 1921.7,1079.2 1914.7,1086.8 1907.6,1089.9 1900.5,1093.5 1893.4,1085.6 1886.4,1087.9 1879.3,1081.3 1872.2,1101.5 1865.1,1114.2 1858.0,1089.6 1851.0,1105.9 1843.9,1098.4 1836.8,1087.6 1829.7,1087.2 1822.7,1102.8 1815.6,1105.9 1808.5,1104.6 1801.4,1098.9 1794.3,1105.9 1787.3,1106.2 1780.2,1103.8 1773.1,1102.0 1766.0,1111.2 1759.0,1109.2 1751.9,1100.1 1744.8,1100.3" fill="#4fa5d8" fill-opacity="0.32" stroke="#4fa5d8" stroke-opacity="0.32" stroke-width="1.5" stroke-linejoin="round"/>
<polygon points="1744.8,1072.2 1751.9,1070.3 1759.0,1086.6 1766.0,1072.3 1773.1,1073.1 1780.2,1067.5 1787.3,1069.9 1794.3,1063.3 1801.4,1070.6 1808.5,1072.8 1815.6,1073.7 1822.7,1068.2 1829.7,1060.8 1836.8,1057.4 1843.9,1053.4 1851.0,1040.4 1858.0,1038.8 1865.1,1027.6 1872.2,1037.4 1879.3,1048.3 1886.4,1036.9 1893.4,1049.5 1900.5,1034.4 1907.6,1018.2 1914.7,1012.7 1921.7,1011.9 1928.8,1010.9 1935.9,1026.7 1943.0,1018.4 1950.1,1031.8 1957.1,1023.9 1964.2,1011.8 1971.3,1001.9 1978.4,1015.6 1985.4,993.7 1992.5,999.0 1999.6,1001.3 2006.7,987.8 2013.8,1001.3 2020.8,998.5 2027.9,989.7 2035.0,996.1 2042.1,987.1 2049.1,984.2 2056.2,979.0 2063.3,974.6 2070.4,981.2 2077.5,960.7 2084.5,968.9 2091.6,958.1 2098.7,948.7 2105.8,979.8 2112.8,953.6 2119.9,936.4 2127.0,941.5 2134.1,921.5 2141.1,906.8 2148.2,922.2 2155.3,935.3 2162.4,916.2 2169.5,922.2 2176.5,910.4 2183.6,917.9 2190.7,928.1 2197.8,897.8 2204.8,889.7 2211.9,900.7 2219.0,876.3 2226.1,887.9 2233.2,896.2 2240.2,860.9 2247.3,873.6 2254.4,873.0 2261.5,844.3 2268.5,844.0 2275.6,826.6 2282.7,835.4 2289.8,855.2 2296.9,855.1 2303.9,865.6 2311.0,850.2 2318.1,852.9 2325.2,839.6 2332.2,839.2 2339.3,802.7 2346.4,783.3 2346.4,864.8 2339.3,882.3 2332.2,917.1 2325.2,918.6 2318.1,932.4 2311.0,929.0 2303.9,943.6 2296.9,930.0 2289.8,928.1 2282.7,908.0 2275.6,898.8 2268.5,917.5 2261.5,917.8 2254.4,944.2 2247.3,943.2 2240.2,928.1 2233.2,962.3 2226.1,955.5 2219.0,943.8 2211.9,968.3 2204.8,956.3 2197.8,961.2 2190.7,990.2 2183.6,979.4 2176.5,971.8 2169.5,985.4 2162.4,978.7 2155.3,996.2 2148.2,981.6 2141.1,963.5 2134.1,978.0 2127.0,999.1 2119.9,994.1 2112.8,1011.9 2105.8,1036.6 2098.7,1002.7 2091.6,1011.2 2084.5,1021.0 2077.5,1013.5 2070.4,1035.7 2063.3,1028.2 2056.2,1031.6 2049.1,1035.0 2042.1,1036.2 2035.0,1045.9 2027.9,1040.8 2020.8,1048.6 2013.8,1050.5 2006.7,1035.4 1999.6,1046.9 1992.5,1045.2 1985.4,1040.4 1978.4,1062.7 1971.3,1049.6 1964.2,1057.5 1957.1,1068.0 1950.1,1075.2 1943.0,1061.0 1935.9,1070.6 1928.8,1055.8 1921.7,1056.0 1914.7,1056.3 1907.6,1059.7 1900.5,1074.6 1893.4,1090.3 1886.4,1078.1 1879.3,1090.5 1872.2,1079.9 1865.1,1068.2 1858.0,1078.4 1851.0,1078.9 1843.9,1091.4 1836.8,1097.2 1829.7,1101.2 1822.7,1108.4 1815.6,1113.3 1808.5,1110.2 1801.4,1107.4 1794.3,1100.5 1787.3,1107.5 1780.2,1106.7 1773.1,1112.2 1766.0,1109.9 1759.0,1123.4 1751.9,1105.7 1744.8,1107.9" fill="#f4996a" fill-opacity="0.32" stroke="#f4996a" stroke-opacity="0.32" stroke-width="1.5" stroke-linejoin="round"/>
<polyline points="1433.4,1121.0 1440.5,1119.7 1447.5,1123.8 1454.6,1113.5 1461.7,1112.9 1468.8,1105.0 1475.9,1110.7 1482.9,1118.1 1490.0,1118.9 1497.1,1114.0 1504.2,1119.7 1511.2,1110.2 1518.3,1117.8 1525.4,1116.4 1532.5,1116.1 1539.6,1122.6 1546.6,1124.6 1553.7,1130.8 1560.8,1131.5 1567.9,1122.2 1574.9,1117.3 1582.0,1110.2 1589.1,1114.0 1596.2,1114.5 1603.3,1114.5 1610.3,1106.7 1617.4,1117.3 1624.5,1118.1 1631.6,1127.0 1638.6,1123.8 1645.7,1119.7 1652.8,1110.7 1659.9,1103.4 1667.0,1109.9 1674.0,1112.4 1681.1,1118.1 1688.2,1105.8 1695.3,1096.1 1702.3,1105.0 1709.4,1114.8 1716.5,1124.6 1723.6,1119.7 1730.6,1104.2 1737.7,1095.2 1744.8,1096.9" fill="none" stroke="#4d4d4d" stroke-width="2.6" stroke-linejoin="round" stroke-linecap="butt"/>
<line x1="1433.4" y1="1119.1" x2="1744.8" y2="1109.0" stroke="#4d4d4d" stroke-width="2.6" stroke-dasharray="9.6 4.1"/>
<polyline points="1744.8,1084.9 1751.9,1085.2 1759.0,1094.6 1766.0,1093.9 1773.1,1084.9 1780.2,1087.1 1787.3,1089.4 1794.3,1091.6 1801.4,1084.2 1808.5,1088.6 1815.6,1090.1 1822.7,1084.9 1829.7,1070.0 1836.8,1072.2 1843.9,1082.7 1851.0,1091.6 1858.0,1074.5 1865.1,1096.8 1872.2,1084.9 1879.3,1064.0 1886.4,1071.5 1893.4,1071.5 1900.5,1078.2 1907.6,1074.5 1914.7,1070.7 1921.7,1061.0 1928.8,1056.3 1935.9,1070.7 1943.0,1065.5 1950.1,1067.0 1957.1,1073.7 1964.2,1051.4 1971.3,1052.1 1978.4,1058.8 1985.4,1065.5 1992.5,1061.8 1999.6,1045.4 2006.7,1054.3 2013.8,1070.0 2020.8,1077.5 2027.9,1060.3 2035.0,1066.3 2042.1,1079.7 2049.1,1067.4 2056.2,1066.4 2063.3,1063.3 2070.4,1048.2 2077.5,1066.4 2084.5,1065.4 2091.6,1066.4 2098.7,1067.4 2105.8,1065.4 2112.8,1057.3 2119.9,1058.3 2127.0,1055.3 2134.1,1047.2 2141.1,1060.3 2148.2,1082.5 2155.3,1069.4 2162.4,1054.3 2169.5,1065.4 2176.5,1071.4 2183.6,1076.5 2190.7,1066.4 2197.8,1073.4 2204.8,1070.4 2211.9,1081.5 2219.0,1071.4 2226.1,1066.4 2233.2,1063.3 2240.2,1056.3 2247.3,1050.2 2254.4,1053.3 2261.5,1050.2 2268.5,1054.3 2275.6,1063.3 2282.7,1072.4 2289.8,1062.3 2296.9,1062.3 2303.9,1072.4 2311.0,1080.5 2318.1,1070.4 2325.2,1060.3 2332.2,1070.4 2339.3,1069.4 2346.4,1088.5" fill="none" stroke="#0b5f96" stroke-width="2.6" stroke-linejoin="round" stroke-linecap="butt"/>
<line x1="1744.8" y1="1079.0" x2="2346.4" y2="1058.5" stroke="#0b5f96" stroke-width="2.6" stroke-dasharray="9.6 4.1"/>
<polyline points="1744.8,1090.1 1751.9,1088.6 1759.0,1103.5 1766.0,1089.4 1773.1,1093.1 1780.2,1087.1 1787.3,1090.1 1794.3,1083.4 1801.4,1087.9 1808.5,1090.9 1815.6,1092.4 1822.7,1087.1 1829.7,1082.7 1836.8,1078.2 1843.9,1073.0 1851.0,1060.3 1858.0,1056.6 1865.1,1046.9 1872.2,1058.8 1879.3,1069.3 1886.4,1059.6 1893.4,1070.7 1900.5,1053.6 1907.6,1038.7 1914.7,1032.7 1921.7,1033.5 1928.8,1035.0 1935.9,1049.1 1943.0,1040.9 1950.1,1053.6 1957.1,1043.9 1964.2,1034.2 1971.3,1025.3 1978.4,1039.4 1985.4,1019.3 1992.5,1022.3 1999.6,1023.8 2006.7,1011.1 2013.8,1023.8 2020.8,1023.8 2027.9,1016.3 2035.0,1021.5 2042.1,1013.3 2049.1,1008.9 2056.2,1002.9 2063.3,1001.9 2070.4,1009.9 2077.5,987.7 2084.5,996.8 2091.6,983.7 2098.7,973.6 2105.8,1007.9 2112.8,981.7 2119.9,966.6 2127.0,972.6 2134.1,949.4 2141.1,935.3 2148.2,950.4 2155.3,963.5 2162.4,948.4 2169.5,954.5 2176.5,942.4 2183.6,950.4 2190.7,957.5 2197.8,928.3 2204.8,922.2 2211.9,933.3 2219.0,912.1 2226.1,923.2 2233.2,929.3 2240.2,895.0 2247.3,906.1 2254.4,907.1 2261.5,881.9 2268.5,880.9 2275.6,864.8 2282.7,872.8 2289.8,890.0 2296.9,892.0 2303.9,903.1 2311.0,889.0 2318.1,895.0 2325.2,879.9 2332.2,878.9 2339.3,842.6 2346.4,821.4" fill="none" stroke="#b3440f" stroke-width="2.6" stroke-linejoin="round" stroke-linecap="butt"/>
<line x1="1744.8" y1="1116.4" x2="2346.4" y2="873.0" stroke="#b3440f" stroke-width="2.6" stroke-dasharray="9.6 4.1"/>
<path d="M1387.8,761.2V1160.5H2392.5" fill="none" stroke="#000" stroke-width="1.7" stroke-linecap="square"/>
<line x1="1461.7" y1="1160.5" x2="1461.7" y2="1166.9" stroke="#000" stroke-width="1.5"/>
<text x="1461.7" y="1205.5" font-size="45.1" text-anchor="middle">1975</text>
<line x1="1638.6" y1="1160.5" x2="1638.6" y2="1166.9" stroke="#000" stroke-width="1.5"/>
<text x="1638.6" y="1205.5" font-size="45.1" text-anchor="middle">2000</text>
<line x1="1815.6" y1="1160.5" x2="1815.6" y2="1166.9" stroke="#000" stroke-width="1.5"/>
<text x="1815.6" y="1205.5" font-size="45.1" text-anchor="middle">2025</text>
<line x1="1992.5" y1="1160.5" x2="1992.5" y2="1166.9" stroke="#000" stroke-width="1.5"/>
<text x="1992.5" y="1205.5" font-size="45.1" text-anchor="middle">2050</text>
<line x1="2169.5" y1="1160.5" x2="2169.5" y2="1166.9" stroke="#000" stroke-width="1.5"/>
<text x="2169.5" y="1205.5" font-size="45.1" text-anchor="middle">2075</text>
<line x1="2346.4" y1="1160.5" x2="2346.4" y2="1166.9" stroke="#000" stroke-width="1.5"/>
<text x="2346.4" y="1205.5" font-size="45.1" text-anchor="middle">2100</text>
<line x1="1381.4" y1="1074.4" x2="1387.8" y2="1074.4" stroke="#000" stroke-width="1.5"/>
<text x="1375.9" y="1090.1" font-size="44.6" text-anchor="end">2</text>
<line x1="1381.4" y1="943.1" x2="1387.8" y2="943.1" stroke="#000" stroke-width="1.5"/>
<text x="1375.9" y="958.8" font-size="44.6" text-anchor="end">3</text>
<line x1="1381.4" y1="811.7" x2="1387.8" y2="811.7" stroke="#000" stroke-width="1.5"/>
<text x="1375.9" y="827.4" font-size="44.6" text-anchor="end">4</text>
<text transform="translate(1337.0,960.9) rotate(-90)" font-size="45.1" text-anchor="middle">NFE (kg m-2)</text>
<text x="1297.1" y="677.3" font-size="66.5">d) GDE</text>
<text x="1387.4" y="755.9" font-size="36.5" font-family="DejaVu Sans, sans-serif">×</text>
<text x="1418.0" y="755.9" font-size="36.5">10</text>
<text x="1454.5" y="734.4" font-size="25.5">−4</text>
<text x="1461.3" y="1035" font-size="35.9" fill="#4d4d4d">Slope:1.83e-07</text>
<text x="1461.3" y="1072.2" font-size="35.9" fill="#4d4d4d">CV:0.037</text>
<text x="1780.3" y="970" font-size="35.9" fill="#0b5f96">Slope:1.84e-07</text>
<text x="1780.3" y="1007.2" font-size="35.9" fill="#0b5f96">CV:0.046</text>
<text x="2063.3" y="797" font-size="35.9" fill="#b3440f">Slope:2.18e-06</text>
<text x="2063.3" y="834.2" font-size="35.9" fill="#b3440f">CV:0.213</text></g>
<g><polygon points="222.6,1601.7 230.2,1614.8 237.9,1651.4 245.5,1578.9 253.1,1583.8 260.7,1569.1 268.3,1593.6 276.0,1598.5 283.6,1639.2 291.2,1599.3 298.8,1552.0 306.5,1599.3 314.1,1618.0 321.7,1612.3 329.3,1610.7 336.9,1604.2 344.6,1608.7 352.2,1612.3 359.8,1586.3 367.4,1583.8 375.1,1605.8 382.7,1612.3 390.3,1588.7 397.9,1605.8 405.5,1659.6 413.2,1615.6 420.8,1572.4 428.4,1609.1 436.0,1651.4 443.7,1627.0 451.3,1636.8 458.9,1641.7 466.5,1541.4 474.1,1574.9 481.8,1620.5 489.4,1602.6 497.0,1585.4 504.6,1576.5 512.3,1635.1 519.9,1625.4 527.5,1570.0 535.1,1564.3 542.8,1627.0 550.4,1578.9 558.0,1599.3 558.0,1683.2 550.4,1687.3 542.8,1744.3 535.1,1654.7 527.5,1693.8 519.9,1725.6 512.3,1702.0 504.6,1659.6 497.0,1685.7 489.4,1721.5 481.8,1695.4 474.1,1671.0 466.5,1656.3 458.9,1718.3 451.3,1730.5 443.7,1710.9 436.0,1711.7 428.4,1648.2 420.8,1671.0 413.2,1703.6 405.5,1730.5 397.9,1703.6 390.3,1734.5 382.7,1666.9 375.1,1706.8 367.4,1713.4 359.8,1673.4 352.2,1679.1 344.6,1726.4 336.9,1719.1 329.3,1711.7 321.7,1707.7 314.1,1707.7 306.5,1706.8 298.8,1665.3 291.2,1678.3 283.6,1696.3 276.0,1682.4 268.3,1702.0 260.7,1699.5 253.1,1652.3 245.5,1661.2 237.9,1697.9 230.2,1686.5 222.6,1730.5" fill="#7a7777" fill-opacity="0.28" stroke="#7a7777" stroke-opacity="0.28" stroke-width="1.5" stroke-linejoin="round"/>
<polygon points="558.0,1542.7 565.6,1589.4 573.2,1563.6 580.9,1606.1 588.5,1611.1 596.1,1581.9 603.7,1607.8 611.4,1557.7 619.0,1556.1 626.6,1577.8 634.2,1539.4 641.8,1544.4 649.5,1547.7 657.1,1569.4 664.7,1567.7 672.3,1503.5 680.0,1541.0 687.6,1561.1 695.2,1567.7 702.8,1591.1 710.4,1561.1 718.1,1542.7 725.7,1584.4 733.3,1550.2 740.9,1577.8 748.6,1554.4 756.2,1521.8 763.8,1564.4 771.4,1577.8 779.0,1581.1 786.7,1594.4 794.3,1559.4 801.9,1544.4 809.5,1505.1 817.2,1561.1 824.8,1551.0 832.4,1522.7 840.0,1554.4 847.6,1547.7 855.3,1577.8 862.9,1604.5 870.5,1518.5 878.1,1527.7 885.8,1534.4 893.4,1514.3 901.0,1561.1 908.6,1493.2 916.2,1510.1 923.9,1548.8 931.5,1529.4 939.1,1521.0 946.7,1565.7 954.4,1577.8 962.0,1577.8 969.6,1565.7 977.2,1534.3 984.9,1553.6 992.5,1577.8 1000.1,1580.2 1007.7,1565.7 1015.3,1553.6 1023.0,1541.5 1030.6,1542.7 1038.2,1553.6 1045.8,1558.4 1053.5,1548.8 1061.1,1577.8 1068.7,1529.4 1076.3,1516.1 1083.9,1553.6 1091.6,1568.1 1099.2,1553.6 1106.8,1537.9 1114.4,1553.6 1122.1,1557.2 1129.7,1552.4 1137.3,1553.6 1144.9,1577.8 1152.5,1550.0 1160.2,1570.5 1167.8,1558.4 1175.4,1542.7 1183.0,1552.4 1190.7,1597.1 1198.3,1560.8 1205.9,1569.3 1205.9,1656.3 1198.3,1661.2 1190.7,1681.7 1183.0,1660.0 1175.4,1634.6 1167.8,1660.0 1160.2,1640.6 1152.5,1623.7 1144.9,1657.5 1137.3,1649.1 1129.7,1651.5 1122.1,1635.8 1114.4,1626.1 1106.8,1656.3 1099.2,1679.3 1091.6,1650.3 1083.9,1645.5 1076.3,1615.2 1068.7,1675.7 1061.1,1655.1 1053.5,1664.8 1045.8,1663.6 1038.2,1643.0 1030.6,1664.8 1023.0,1660.0 1015.3,1650.3 1007.7,1660.0 1000.1,1664.8 992.5,1657.5 984.9,1650.3 977.2,1647.9 969.6,1662.4 962.0,1674.5 954.4,1684.1 946.7,1674.5 939.1,1650.3 931.5,1657.5 923.9,1676.9 916.2,1650.3 908.6,1660.0 901.0,1669.5 893.4,1627.8 885.8,1636.2 878.1,1636.2 870.5,1669.5 862.9,1705.4 855.3,1707.1 847.6,1661.2 840.0,1644.5 832.4,1636.2 824.8,1652.9 817.2,1661.2 809.5,1649.5 801.9,1671.2 794.3,1681.2 786.7,1686.2 779.0,1649.5 771.4,1661.2 763.8,1674.6 756.2,1669.5 748.6,1657.9 740.9,1644.5 733.3,1636.2 725.7,1661.2 718.1,1691.2 710.4,1652.9 702.8,1656.2 695.2,1661.2 687.6,1679.6 680.0,1661.2 672.3,1644.5 664.7,1684.6 657.1,1666.2 649.5,1664.5 641.8,1656.2 634.2,1644.5 626.6,1657.9 619.0,1652.9 611.4,1671.2 603.7,1661.2 596.1,1702.1 588.5,1681.2 580.9,1656.2 573.2,1699.6 565.6,1703.8 558.0,1682.9" fill="#4fa5d8" fill-opacity="0.32" stroke="#4fa5d8" stroke-opacity="0.32" stroke-width="1.5" stroke-linejoin="round"/>
<polygon points="558.0,1561.1 565.6,1559.4 573.2,1577.8 580.9,1627.8 588.5,1599.4 596.1,1594.4 603.7,1572.7 611.4,1587.8 619.0,1556.1 626.6,1591.1 634.2,1553.6 641.8,1587.8 649.5,1577.8 657.1,1561.1 664.7,1549.4 672.3,1554.4 680.0,1582.8 687.6,1553.6 695.2,1569.4 702.8,1594.4 710.4,1577.8 718.1,1551.9 725.7,1584.4 733.3,1577.8 740.9,1570.2 748.6,1576.1 756.2,1594.4 763.8,1604.5 771.4,1574.4 779.0,1577.8 786.7,1554.4 794.3,1545.2 801.9,1551.9 809.5,1522.7 817.2,1561.1 824.8,1544.4 832.4,1486.8 840.0,1541.0 847.6,1524.3 855.3,1517.7 862.9,1561.1 870.5,1577.8 878.1,1517.7 885.8,1554.4 893.4,1561.1 901.0,1516.0 908.6,1539.1 916.2,1558.4 923.9,1512.5 931.5,1543.9 939.1,1568.1 946.7,1529.4 954.4,1490.7 962.0,1500.4 969.6,1519.8 977.2,1527.0 984.9,1510.1 992.5,1548.8 1000.1,1493.2 1007.7,1455.7 1015.3,1471.4 1023.0,1524.6 1030.6,1502.8 1038.2,1485.9 1045.8,1516.1 1053.5,1505.2 1061.1,1454.5 1068.7,1440.0 1076.3,1471.4 1083.9,1461.7 1091.6,1449.7 1099.2,1454.5 1106.8,1461.7 1114.4,1444.8 1122.1,1432.7 1129.7,1452.1 1137.3,1411.0 1144.9,1398.9 1152.5,1386.8 1160.2,1444.8 1167.8,1406.1 1175.4,1460.5 1183.0,1456.9 1190.7,1353.0 1198.3,1367.5 1205.9,1373.5 1205.9,1527.0 1198.3,1558.4 1190.7,1597.1 1183.0,1568.1 1175.4,1580.2 1167.8,1585.0 1160.2,1572.9 1152.5,1551.2 1144.9,1577.8 1137.3,1586.2 1129.7,1585.0 1122.1,1522.2 1114.4,1558.4 1106.8,1577.8 1099.2,1621.3 1091.6,1599.5 1083.9,1616.4 1076.3,1609.2 1068.7,1633.4 1061.1,1645.5 1053.5,1638.2 1045.8,1626.1 1038.2,1623.7 1030.6,1664.8 1023.0,1657.5 1015.3,1638.2 1007.7,1650.3 1000.1,1709.5 992.5,1660.0 984.9,1650.3 977.2,1676.9 969.6,1650.3 962.0,1657.5 954.4,1669.6 946.7,1657.5 939.1,1647.9 931.5,1698.6 923.9,1681.7 916.2,1638.2 908.6,1657.5 901.0,1636.2 893.4,1632.8 885.8,1641.2 878.1,1657.0 870.5,1627.8 862.9,1634.5 855.3,1676.2 847.6,1662.9 840.0,1667.9 832.4,1637.8 824.8,1649.5 817.2,1661.2 809.5,1672.9 801.9,1652.9 794.3,1638.7 786.7,1649.5 779.0,1691.2 771.4,1692.9 763.8,1669.5 756.2,1657.9 748.6,1674.6 740.9,1644.5 733.3,1637.8 725.7,1644.5 718.1,1699.6 710.4,1652.9 702.8,1659.5 695.2,1658.7 687.6,1634.5 680.0,1672.9 672.3,1649.5 664.7,1677.9 657.1,1706.3 649.5,1654.5 641.8,1671.2 634.2,1649.5 626.6,1684.6 619.0,1649.5 611.4,1669.5 603.7,1649.5 596.1,1666.2 588.5,1667.9 580.9,1671.2 573.2,1654.5 565.6,1679.6 558.0,1681.2" fill="#f4996a" fill-opacity="0.32" stroke="#f4996a" stroke-opacity="0.32" stroke-width="1.5" stroke-linejoin="round"/>
<polyline points="222.6,1666.1 230.2,1651.4 237.9,1677.5 245.5,1619.7 253.1,1616.9 260.7,1632.7 268.3,1647.9 276.0,1639.7 283.6,1669.4 291.2,1635.1 298.8,1608.7 306.5,1654.7 314.1,1663.7 321.7,1660.7 329.3,1662.0 336.9,1661.2 344.6,1667.4 352.2,1646.9 359.8,1629.1 367.4,1647.9 375.1,1656.3 382.7,1640.4 390.3,1660.7 397.9,1654.7 405.5,1696.7 413.2,1654.7 420.8,1613.1 428.4,1621.3 436.0,1682.9 443.7,1669.0 451.3,1684.4 458.9,1679.5 466.5,1596.5 474.1,1622.1 481.8,1658.3 489.4,1661.5 497.0,1636.8 504.6,1616.9 512.3,1670.2 519.9,1670.2 527.5,1610.4 535.1,1610.4 542.8,1682.4 550.4,1633.5 558.0,1619.7" fill="none" stroke="#4d4d4d" stroke-width="2.8" stroke-linejoin="round" stroke-linecap="butt"/>
<line x1="222.6" y1="1652.4" x2="558.0" y2="1645.3" stroke="#4d4d4d" stroke-width="2.8" stroke-dasharray="10.3 4.5"/>
<polyline points="558.0,1608.6 565.6,1646.2 573.2,1627.8 580.9,1621.1 588.5,1648.7 596.1,1639.5 603.7,1629.5 611.4,1617.8 619.0,1606.1 626.6,1612.0 634.2,1587.8 641.8,1597.8 649.5,1602.8 657.1,1612.8 664.7,1626.2 672.3,1571.9 680.0,1599.4 687.6,1617.8 695.2,1625.3 702.8,1626.2 710.4,1611.1 718.1,1611.1 725.7,1622.8 733.3,1582.8 740.9,1620.3 748.6,1607.8 756.2,1595.8 763.8,1622.0 771.4,1622.5 779.0,1622.0 786.7,1644.2 794.3,1621.1 801.9,1606.1 809.5,1582.4 817.2,1611.1 824.8,1619.5 832.4,1584.4 840.0,1609.5 847.6,1607.8 855.3,1641.2 862.9,1657.9 870.5,1584.4 878.1,1566.4 885.8,1574.4 893.4,1571.9 901.0,1617.0 908.6,1574.1 916.2,1570.5 923.9,1617.7 931.5,1598.3 939.1,1592.3 946.7,1634.6 954.4,1646.7 962.0,1624.9 969.6,1623.7 977.2,1568.1 984.9,1592.3 992.5,1635.8 1000.1,1635.8 1007.7,1620.1 1015.3,1604.4 1023.0,1589.9 1030.6,1603.1 1038.2,1610.4 1045.8,1615.2 1053.5,1606.8 1061.1,1615.2 1068.7,1608.0 1076.3,1560.8 1083.9,1600.7 1091.6,1623.7 1099.2,1622.5 1106.8,1598.3 1114.4,1603.1 1122.1,1595.9 1129.7,1601.9 1137.3,1601.9 1144.9,1632.2 1152.5,1592.3 1160.2,1606.8 1167.8,1605.6 1175.4,1591.1 1183.0,1601.9 1190.7,1639.4 1198.3,1618.9 1205.9,1612.8" fill="none" stroke="#0b5f96" stroke-width="2.8" stroke-linejoin="round" stroke-linecap="butt"/>
<line x1="558.0" y1="1614.4" x2="1205.9" y2="1602.6" stroke="#0b5f96" stroke-width="2.8" stroke-dasharray="10.3 4.5"/>
<polyline points="558.0,1622.0 565.6,1619.5 573.2,1608.6 580.9,1646.2 588.5,1634.5 596.1,1632.0 603.7,1622.0 611.4,1636.2 619.0,1606.1 626.6,1638.7 634.2,1607.0 641.8,1639.5 649.5,1629.5 657.1,1634.5 664.7,1612.0 672.3,1604.5 680.0,1632.8 687.6,1591.9 695.2,1619.5 702.8,1631.2 710.4,1617.0 718.1,1623.6 725.7,1622.0 733.3,1609.5 740.9,1612.0 748.6,1625.3 756.2,1634.5 763.8,1637.0 771.4,1632.8 779.0,1635.3 786.7,1591.9 794.3,1591.9 801.9,1583.6 809.5,1599.4 817.2,1609.5 824.8,1599.4 832.4,1577.8 840.0,1602.8 847.6,1587.8 855.3,1597.8 862.9,1592.8 870.5,1607.0 878.1,1594.4 885.8,1580.3 893.4,1604.5 901.0,1596.1 908.6,1605.6 916.2,1586.2 923.9,1595.9 931.5,1624.9 939.1,1583.8 946.7,1582.6 954.4,1550.0 962.0,1569.3 969.6,1591.1 977.2,1600.7 984.9,1575.3 992.5,1595.9 1000.1,1606.8 1007.7,1557.2 1015.3,1562.1 1023.0,1586.2 1030.6,1586.2 1038.2,1548.8 1045.8,1569.3 1053.5,1569.3 1061.1,1548.8 1068.7,1525.8 1076.3,1543.9 1083.9,1540.3 1091.6,1506.5 1099.2,1534.3 1106.8,1513.7 1114.4,1521.0 1122.1,1478.7 1129.7,1504.0 1137.3,1500.4 1144.9,1490.7 1152.5,1498.0 1160.2,1505.2 1167.8,1496.8 1175.4,1522.2 1183.0,1513.7 1190.7,1475.0 1198.3,1466.6 1205.9,1446.0" fill="none" stroke="#b3440f" stroke-width="2.8" stroke-linejoin="round" stroke-linecap="butt"/>
<line x1="558.0" y1="1653.4" x2="1205.9" y2="1510.1" stroke="#b3440f" stroke-width="2.8" stroke-dasharray="10.3 4.5"/>
<path d="M173.7,1333.0V1764.0H1255.5" fill="none" stroke="#000" stroke-width="1.9" stroke-linecap="square"/>
<line x1="253.1" y1="1764.0" x2="253.1" y2="1770.9" stroke="#000" stroke-width="1.6"/>
<text x="253.1" y="1812.4" font-size="48.6" text-anchor="middle">1975</text>
<line x1="443.7" y1="1764.0" x2="443.7" y2="1770.9" stroke="#000" stroke-width="1.6"/>
<text x="443.7" y="1812.4" font-size="48.6" text-anchor="middle">2000</text>
<line x1="634.2" y1="1764.0" x2="634.2" y2="1770.9" stroke="#000" stroke-width="1.6"/>
<text x="634.2" y="1812.4" font-size="48.6" text-anchor="middle">2025</text>
<line x1="824.8" y1="1764.0" x2="824.8" y2="1770.9" stroke="#000" stroke-width="1.6"/>
<text x="824.8" y="1812.4" font-size="48.6" text-anchor="middle">2050</text>
<line x1="1015.3" y1="1764.0" x2="1015.3" y2="1770.9" stroke="#000" stroke-width="1.6"/>
<text x="1015.3" y="1812.4" font-size="48.6" text-anchor="middle">2075</text>
<line x1="1205.9" y1="1764.0" x2="1205.9" y2="1770.9" stroke="#000" stroke-width="1.6"/>
<text x="1205.9" y="1812.4" font-size="48.6" text-anchor="middle">2100</text>
<line x1="166.8" y1="1693.0" x2="173.7" y2="1693.0" stroke="#000" stroke-width="1.6"/>
<text x="162.3" y="1709.9" font-size="48.0" text-anchor="end">100</text>
<line x1="166.8" y1="1552.5" x2="173.7" y2="1552.5" stroke="#000" stroke-width="1.6"/>
<text x="162.3" y="1569.5" font-size="48.0" text-anchor="end">120</text>
<line x1="166.8" y1="1412.1" x2="173.7" y2="1412.1" stroke="#000" stroke-width="1.6"/>
<text x="162.3" y="1429.0" font-size="48.0" text-anchor="end">140</text>
<text transform="translate(70.8,1549.5) rotate(-90)" font-size="48.5" text-anchor="middle">GWR (mm)</text>
<text x="41" y="1284.3" font-size="66.5">e) non-GDE</text>
<text x="254.4" y="1550.2" font-size="38.6" fill="#4d4d4d">Slope:0.0236</text>
<text x="254.4" y="1591.0" font-size="38.6" fill="#4d4d4d">CV:0.032</text>
<text x="597" y="1509.2" font-size="38.6" fill="#0b5f96">Slope:0.0200</text>
<text x="597" y="1550.0" font-size="38.6" fill="#0b5f96">CV:0.026</text>
<text x="902" y="1457.2" font-size="38.6" fill="#b3440f">Slope:0.2397</text>
<text x="902" y="1498.0" font-size="38.6" fill="#b3440f">CV:0.058</text></g>
<g><polygon points="1433.4,1728.2 1440.5,1726.7 1447.5,1728.5 1454.6,1725.2 1461.7,1723.1 1468.8,1718.7 1475.9,1719.5 1482.9,1720.5 1490.0,1717.8 1497.1,1715.9 1504.2,1715.6 1511.2,1713.8 1518.3,1716.1 1525.4,1713.5 1532.5,1707.2 1539.6,1705.3 1546.6,1709.0 1553.7,1712.4 1560.8,1710.0 1567.9,1705.8 1574.9,1706.3 1582.0,1703.7 1589.1,1699.1 1596.2,1690.8 1603.3,1693.4 1610.3,1694.9 1617.4,1694.5 1624.5,1685.6 1631.6,1681.0 1638.6,1681.1 1645.7,1683.6 1652.8,1685.7 1659.9,1683.2 1667.0,1677.1 1674.0,1674.0 1681.1,1677.2 1688.2,1677.2 1695.3,1674.1 1702.3,1664.3 1709.4,1671.6 1716.5,1680.9 1723.6,1668.9 1730.6,1657.8 1737.7,1661.8 1744.8,1662.8 1744.8,1686.5 1737.7,1686.0 1730.6,1682.6 1723.6,1693.0 1716.5,1704.5 1709.4,1694.8 1702.3,1687.3 1695.3,1697.9 1688.2,1701.6 1681.1,1701.6 1674.0,1698.4 1667.0,1700.5 1659.9,1706.2 1652.8,1709.0 1645.7,1707.2 1638.6,1705.5 1631.6,1705.8 1624.5,1709.6 1617.4,1718.1 1610.3,1718.0 1603.3,1716.4 1596.2,1714.8 1589.1,1723.4 1582.0,1728.2 1574.9,1730.7 1567.9,1729.2 1560.8,1733.1 1553.7,1735.7 1546.6,1732.6 1539.6,1729.9 1532.5,1731.7 1525.4,1737.5 1518.3,1739.8 1511.2,1736.7 1504.2,1738.8 1497.1,1739.9 1490.0,1742.0 1482.9,1745.2 1475.9,1743.8 1468.8,1742.1 1461.7,1746.3 1454.6,1748.4 1447.5,1752.2 1440.5,1751.4 1433.4,1752.6" fill="#7a7777" fill-opacity="0.28" stroke="#7a7777" stroke-opacity="0.28" stroke-width="1.5" stroke-linejoin="round"/>
<polygon points="1744.8,1660.0 1751.9,1663.0 1759.0,1665.7 1766.0,1657.4 1773.1,1650.4 1780.2,1653.2 1787.3,1652.3 1794.3,1644.4 1801.4,1640.2 1808.5,1644.4 1815.6,1645.3 1822.7,1640.6 1829.7,1636.4 1836.8,1630.6 1843.9,1631.2 1851.0,1629.4 1858.0,1625.4 1865.1,1630.2 1872.2,1627.3 1879.3,1623.4 1886.4,1624.3 1893.4,1619.7 1900.5,1622.0 1907.6,1620.8 1914.7,1618.3 1921.7,1611.1 1928.8,1611.0 1935.9,1611.4 1943.0,1607.1 1950.1,1610.1 1957.1,1612.0 1964.2,1609.1 1971.3,1605.6 1978.4,1601.4 1985.4,1606.0 1992.5,1605.0 1999.6,1605.5 2006.7,1600.8 2013.8,1604.5 2020.8,1607.9 2027.9,1602.7 2035.0,1602.3 2042.1,1601.9 2049.1,1596.8 2056.2,1599.9 2063.3,1599.6 2070.4,1591.2 2077.5,1595.3 2084.5,1598.0 2091.6,1597.3 2098.7,1596.6 2105.8,1598.7 2112.8,1600.2 2119.9,1599.2 2127.0,1597.4 2134.1,1597.2 2141.1,1597.8 2148.2,1595.9 2155.3,1599.2 2162.4,1600.3 2169.5,1600.4 2176.5,1593.6 2183.6,1599.6 2190.7,1598.9 2197.8,1600.2 2204.8,1598.2 2211.9,1601.4 2219.0,1601.2 2226.1,1600.2 2233.2,1595.6 2240.2,1592.1 2247.3,1596.0 2254.4,1599.7 2261.5,1602.2 2268.5,1599.8 2275.6,1600.8 2282.7,1603.5 2289.8,1603.4 2296.9,1603.2 2303.9,1603.2 2311.0,1604.8 2318.1,1601.1 2325.2,1599.1 2332.2,1606.6 2339.3,1603.8 2346.4,1609.1 2346.4,1630.6 2339.3,1624.9 2332.2,1628.1 2325.2,1621.3 2318.1,1623.4 2311.0,1627.2 2303.9,1625.1 2296.9,1624.4 2289.8,1624.7 2282.7,1625.1 2275.6,1622.7 2268.5,1622.4 2261.5,1624.4 2254.4,1621.4 2247.3,1617.5 2240.2,1613.1 2233.2,1617.2 2226.1,1622.3 2219.0,1623.5 2211.9,1623.8 2204.8,1620.0 2197.8,1621.4 2190.7,1620.3 2183.6,1621.1 2176.5,1615.6 2169.5,1623.0 2162.4,1622.4 2155.3,1621.1 2148.2,1617.3 2141.1,1618.9 2134.1,1618.9 2127.0,1619.5 2119.9,1621.6 2112.8,1622.7 2105.8,1620.4 2098.7,1617.9 2091.6,1618.7 2084.5,1619.4 2077.5,1617.5 2070.4,1613.7 2063.3,1621.8 2056.2,1621.9 2049.1,1618.1 2042.1,1625.1 2035.0,1625.9 2027.9,1625.7 2020.8,1630.6 2013.8,1626.8 2006.7,1623.0 1999.6,1628.4 1992.5,1628.2 1985.4,1629.4 1978.4,1624.8 1971.3,1628.2 1964.2,1631.4 1957.1,1634.4 1950.1,1632.7 1943.0,1630.4 1935.9,1634.9 1928.8,1634.1 1921.7,1633.9 1914.7,1640.5 1907.6,1643.0 1900.5,1644.9 1893.4,1642.8 1886.4,1647.8 1879.3,1646.7 1872.2,1649.8 1865.1,1652.6 1858.0,1647.7 1851.0,1652.0 1843.9,1654.6 1836.8,1654.0 1829.7,1659.5 1822.7,1663.4 1815.6,1667.4 1808.5,1666.7 1801.4,1663.0 1794.3,1667.6 1787.3,1675.9 1780.2,1676.3 1773.1,1672.9 1766.0,1679.8 1759.0,1687.9 1751.9,1685.8 1744.8,1683.4" fill="#4fa5d8" fill-opacity="0.32" stroke="#4fa5d8" stroke-opacity="0.32" stroke-width="1.5" stroke-linejoin="round"/>
<polygon points="1744.8,1654.2 1751.9,1654.5 1759.0,1657.7 1766.0,1651.7 1773.1,1651.3 1780.2,1648.5 1787.3,1651.7 1794.3,1642.6 1801.4,1640.7 1808.5,1636.0 1815.6,1634.6 1822.7,1635.7 1829.7,1630.8 1836.8,1626.3 1843.9,1631.9 1851.0,1623.3 1858.0,1619.5 1865.1,1616.2 1872.2,1613.4 1879.3,1614.1 1886.4,1607.6 1893.4,1603.4 1900.5,1601.0 1907.6,1597.2 1914.7,1594.1 1921.7,1591.2 1928.8,1588.2 1935.9,1587.5 1943.0,1588.7 1950.1,1586.3 1957.1,1582.2 1964.2,1576.7 1971.3,1568.1 1978.4,1571.3 1985.4,1565.0 1992.5,1556.9 1999.6,1560.4 2006.7,1556.3 2013.8,1555.3 2020.8,1553.4 2027.9,1553.5 2035.0,1549.4 2042.1,1543.2 2049.1,1539.5 2056.2,1535.7 2063.3,1532.3 2070.4,1528.8 2077.5,1521.9 2084.5,1519.9 2091.6,1526.5 2098.7,1518.6 2105.8,1515.7 2112.8,1512.1 2119.9,1502.0 2127.0,1503.3 2134.1,1500.7 2141.1,1496.5 2148.2,1486.8 2155.3,1490.7 2162.4,1482.0 2169.5,1477.9 2176.5,1475.9 2183.6,1474.4 2190.7,1471.8 2197.8,1465.3 2204.8,1463.0 2211.9,1466.3 2219.0,1455.2 2226.1,1447.1 2233.2,1454.8 2240.2,1438.1 2247.3,1440.5 2254.4,1437.4 2261.5,1430.2 2268.5,1428.8 2275.6,1423.7 2282.7,1422.8 2289.8,1422.5 2296.9,1421.4 2303.9,1416.9 2311.0,1417.7 2318.1,1420.7 2325.2,1407.2 2332.2,1406.2 2339.3,1400.2 2346.4,1387.7 2346.4,1440.6 2339.3,1452.3 2332.2,1457.4 2325.2,1458.5 2318.1,1472.3 2311.0,1469.2 2303.9,1468.2 2296.9,1471.7 2289.8,1471.6 2282.7,1471.7 2275.6,1472.2 2268.5,1477.6 2261.5,1479.4 2254.4,1485.8 2247.3,1488.2 2240.2,1484.8 2233.2,1500.5 2226.1,1493.1 2219.0,1501.4 2211.9,1512.5 2204.8,1509.1 2197.8,1510.1 2190.7,1515.6 2183.6,1517.9 2176.5,1519.0 2169.5,1521.5 2162.4,1525.7 2155.3,1533.6 2148.2,1529.2 2141.1,1537.6 2134.1,1541.1 2127.0,1544.0 2119.9,1542.7 2112.8,1553.0 2105.8,1556.3 2098.7,1557.9 2091.6,1565.0 2084.5,1557.9 2077.5,1559.6 2070.4,1567.2 2063.3,1570.5 2056.2,1573.4 2049.1,1576.4 2042.1,1579.4 2035.0,1586.4 2027.9,1590.7 2020.8,1590.0 2013.8,1591.4 2006.7,1591.5 1999.6,1595.4 1992.5,1592.5 1985.4,1600.9 1978.4,1607.5 1971.3,1604.1 1964.2,1611.6 1957.1,1616.7 1950.1,1620.5 1943.0,1623.1 1935.9,1622.7 1928.8,1623.4 1921.7,1626.1 1914.7,1628.4 1907.6,1630.5 1900.5,1634.3 1893.4,1637.1 1886.4,1641.6 1879.3,1648.6 1872.2,1647.3 1865.1,1649.3 1858.0,1652.3 1851.0,1655.6 1843.9,1664.6 1836.8,1659.8 1829.7,1664.1 1822.7,1668.9 1815.6,1667.0 1808.5,1667.4 1801.4,1672.4 1794.3,1674.4 1787.3,1683.9 1780.2,1681.2 1773.1,1683.3 1766.0,1683.1 1759.0,1688.6 1751.9,1684.9 1744.8,1685.3" fill="#f4996a" fill-opacity="0.32" stroke="#f4996a" stroke-opacity="0.32" stroke-width="1.5" stroke-linejoin="round"/>
<polyline points="1433.4,1740.5 1440.5,1739.5 1447.5,1740.7 1454.6,1737.7 1461.7,1734.3 1468.8,1729.6 1475.9,1731.5 1482.9,1732.3 1490.0,1730.5 1497.1,1728.8 1504.2,1727.1 1511.2,1725.5 1518.3,1727.3 1525.4,1724.6 1532.5,1719.8 1539.6,1717.7 1546.6,1721.4 1553.7,1724.8 1560.8,1720.9 1567.9,1717.1 1574.9,1718.1 1582.0,1715.4 1589.1,1712.1 1596.2,1703.3 1603.3,1705.0 1610.3,1706.7 1617.4,1705.4 1624.5,1697.0 1631.6,1693.6 1638.6,1693.3 1645.7,1696.3 1652.8,1697.8 1659.9,1694.1 1667.0,1688.6 1674.0,1685.4 1681.1,1689.1 1688.2,1690.3 1695.3,1686.3 1702.3,1676.2 1709.4,1683.3 1716.5,1691.6 1723.6,1680.7 1730.6,1670.2 1737.7,1674.0 1744.8,1675.7" fill="none" stroke="#4d4d4d" stroke-width="2.6" stroke-linejoin="round" stroke-linecap="butt"/>
<line x1="1433.4" y1="1741.1" x2="1744.8" y2="1675.1" stroke="#4d4d4d" stroke-width="2.6" stroke-dasharray="9.6 4.1"/>
<polyline points="1744.8,1672.3 1751.9,1674.6 1759.0,1677.3 1766.0,1668.5 1773.1,1660.9 1780.2,1664.7 1787.3,1663.9 1794.3,1656.3 1801.4,1652.5 1808.5,1655.5 1815.6,1656.3 1822.7,1651.7 1829.7,1647.1 1836.8,1642.5 1843.9,1643.3 1851.0,1641.0 1858.0,1637.2 1865.1,1641.0 1872.2,1638.0 1879.3,1634.9 1886.4,1635.7 1893.4,1631.8 1900.5,1634.1 1907.6,1631.8 1914.7,1629.6 1921.7,1621.9 1928.8,1621.9 1935.9,1623.4 1943.0,1618.9 1950.1,1621.9 1957.1,1623.8 1964.2,1619.6 1971.3,1616.6 1978.4,1612.8 1985.4,1617.3 1992.5,1617.3 1999.6,1617.3 2006.7,1612.0 2013.8,1615.8 2020.8,1618.4 2027.9,1613.8 2035.0,1614.3 2042.1,1613.5 2049.1,1607.5 2056.2,1610.2 2063.3,1610.2 2070.4,1602.9 2077.5,1606.6 2084.5,1609.3 2091.6,1608.4 2098.7,1606.6 2105.8,1609.3 2112.8,1611.1 2119.9,1610.2 2127.0,1609.3 2134.1,1608.4 2141.1,1608.4 2148.2,1606.6 2155.3,1609.3 2162.4,1611.1 2169.5,1612.0 2176.5,1604.7 2183.6,1611.1 2190.7,1609.7 2197.8,1610.2 2204.8,1608.9 2211.9,1612.0 2219.0,1612.4 2226.1,1612.0 2233.2,1606.6 2240.2,1602.9 2247.3,1606.6 2254.4,1609.7 2261.5,1613.3 2268.5,1611.1 2275.6,1612.0 2282.7,1615.1 2289.8,1613.9 2296.9,1613.5 2303.9,1613.9 2311.0,1615.3 2318.1,1612.6 2325.2,1610.8 2332.2,1617.5 2339.3,1614.8 2346.4,1619.4" fill="none" stroke="#0b5f96" stroke-width="2.6" stroke-linejoin="round" stroke-linecap="butt"/>
<line x1="1744.8" y1="1650.0" x2="2346.4" y2="1597.1" stroke="#0b5f96" stroke-width="2.6" stroke-dasharray="9.6 4.1"/>
<polyline points="1744.8,1670.0 1751.9,1670.1 1759.0,1673.1 1766.0,1666.3 1773.1,1667.1 1780.2,1664.9 1787.3,1668.0 1794.3,1659.6 1801.4,1656.6 1808.5,1651.3 1815.6,1650.6 1822.7,1651.4 1829.7,1647.6 1836.8,1643.8 1843.9,1648.4 1851.0,1640.1 1858.0,1635.5 1865.1,1631.8 1872.2,1630.3 1879.3,1631.1 1886.4,1625.0 1893.4,1621.3 1900.5,1617.5 1907.6,1613.7 1914.7,1610.7 1921.7,1607.7 1928.8,1606.2 1935.9,1605.5 1943.0,1606.3 1950.1,1604.1 1957.1,1598.8 1964.2,1593.5 1971.3,1585.9 1978.4,1589.0 1985.4,1583.7 1992.5,1575.4 1999.6,1577.7 2006.7,1574.0 2013.8,1572.5 2020.8,1571.0 2027.9,1572.6 2035.0,1568.1 2042.1,1562.0 2049.1,1557.4 2056.2,1553.8 2063.3,1552.0 2070.4,1548.4 2077.5,1541.2 2084.5,1539.4 2091.6,1544.9 2098.7,1537.7 2105.8,1535.9 2112.8,1532.3 2119.9,1523.3 2127.0,1524.2 2134.1,1520.6 2141.1,1517.0 2148.2,1507.1 2155.3,1511.7 2162.4,1504.4 2169.5,1499.9 2176.5,1498.2 2183.6,1496.4 2190.7,1492.8 2197.8,1487.4 2204.8,1485.7 2211.9,1489.3 2219.0,1479.4 2226.1,1470.4 2233.2,1477.7 2240.2,1461.4 2247.3,1463.2 2254.4,1461.5 2261.5,1455.2 2268.5,1453.4 2275.6,1448.9 2282.7,1447.2 2289.8,1446.3 2296.9,1446.4 2303.9,1441.9 2311.0,1443.7 2318.1,1447.4 2325.2,1433.0 2332.2,1432.1 2339.3,1425.8 2346.4,1413.2" fill="none" stroke="#b3440f" stroke-width="2.6" stroke-linejoin="round" stroke-linecap="butt"/>
<line x1="1744.8" y1="1685.1" x2="2346.4" y2="1425.9" stroke="#b3440f" stroke-width="2.6" stroke-dasharray="9.6 4.1"/>
<path d="M1387.8,1369.8V1769.0H2392.5" fill="none" stroke="#000" stroke-width="1.7" stroke-linecap="square"/>
<line x1="1461.7" y1="1769.0" x2="1461.7" y2="1775.4" stroke="#000" stroke-width="1.5"/>
<text x="1461.7" y="1814.0" font-size="45.1" text-anchor="middle">1975</text>
<line x1="1638.6" y1="1769.0" x2="1638.6" y2="1775.4" stroke="#000" stroke-width="1.5"/>
<text x="1638.6" y="1814.0" font-size="45.1" text-anchor="middle">2000</text>
<line x1="1815.6" y1="1769.0" x2="1815.6" y2="1775.4" stroke="#000" stroke-width="1.5"/>
<text x="1815.6" y="1814.0" font-size="45.1" text-anchor="middle">2025</text>
<line x1="1992.5" y1="1769.0" x2="1992.5" y2="1775.4" stroke="#000" stroke-width="1.5"/>
<text x="1992.5" y="1814.0" font-size="45.1" text-anchor="middle">2050</text>
<line x1="2169.5" y1="1769.0" x2="2169.5" y2="1775.4" stroke="#000" stroke-width="1.5"/>
<text x="2169.5" y="1814.0" font-size="45.1" text-anchor="middle">2075</text>
<line x1="2346.4" y1="1769.0" x2="2346.4" y2="1775.4" stroke="#000" stroke-width="1.5"/>
<text x="2346.4" y="1814.0" font-size="45.1" text-anchor="middle">2100</text>
<line x1="1381.4" y1="1748.8" x2="1387.8" y2="1748.8" stroke="#000" stroke-width="1.5"/>
<text x="1375.9" y="1764.5" font-size="44.6" text-anchor="end">0.6</text>
<line x1="1381.4" y1="1612.9" x2="1387.8" y2="1612.9" stroke="#000" stroke-width="1.5"/>
<text x="1375.9" y="1628.7" font-size="44.6" text-anchor="end">0.8</text>
<line x1="1381.4" y1="1477.1" x2="1387.8" y2="1477.1" stroke="#000" stroke-width="1.5"/>
<text x="1375.9" y="1492.8" font-size="44.6" text-anchor="end">1.0</text>
<text transform="translate(1304.0,1569.4) rotate(-90)" font-size="45.1" text-anchor="middle">NFE (kg m-2)</text>
<text x="1300" y="1284.3" font-size="66.5">f) non-GDE</text>
<text x="1387.4" y="1364.5" font-size="36.5" font-family="DejaVu Sans, sans-serif">×</text>
<text x="1418.0" y="1364.5" font-size="36.5">10</text>
<text x="1454.5" y="1343.0" font-size="25.5">−3</text>
<text x="1461.3" y="1630" font-size="35.9" fill="#4d4d4d">Slope:2.29e-06</text>
<text x="1461.3" y="1667.2" font-size="35.9" fill="#4d4d4d">CV:0.045</text>
<text x="1780.3" y="1546" font-size="35.9" fill="#0b5f96">Slope:9.22e-07</text>
<text x="1780.3" y="1583.2" font-size="35.9" fill="#0b5f96">CV:0.035</text>
<text x="2063.3" y="1387" font-size="35.9" fill="#b3440f">Slope:4.50e-06</text>
<text x="2063.3" y="1424.2" font-size="35.9" fill="#b3440f">CV:0.126</text></g>
<rect x="738.7" y="1869.7" width="116.29999999999995" height="14" fill="#4fa5d8"/>
<text x="890" y="1894.5" font-size="51.2">SSP126</text>
<rect x="1149.3" y="1869.7" width="116.70000000000005" height="14" fill="#f4996a"/>
<text x="1301" y="1894.5" font-size="51.2">SSP585</text>
<rect x="1559.8" y="1869.7" width="117.20000000000005" height="14" fill="#7a7777"/>
<text x="1711.5" y="1894.5" font-size="51.2">His</text>
</svg>
</body></html>
